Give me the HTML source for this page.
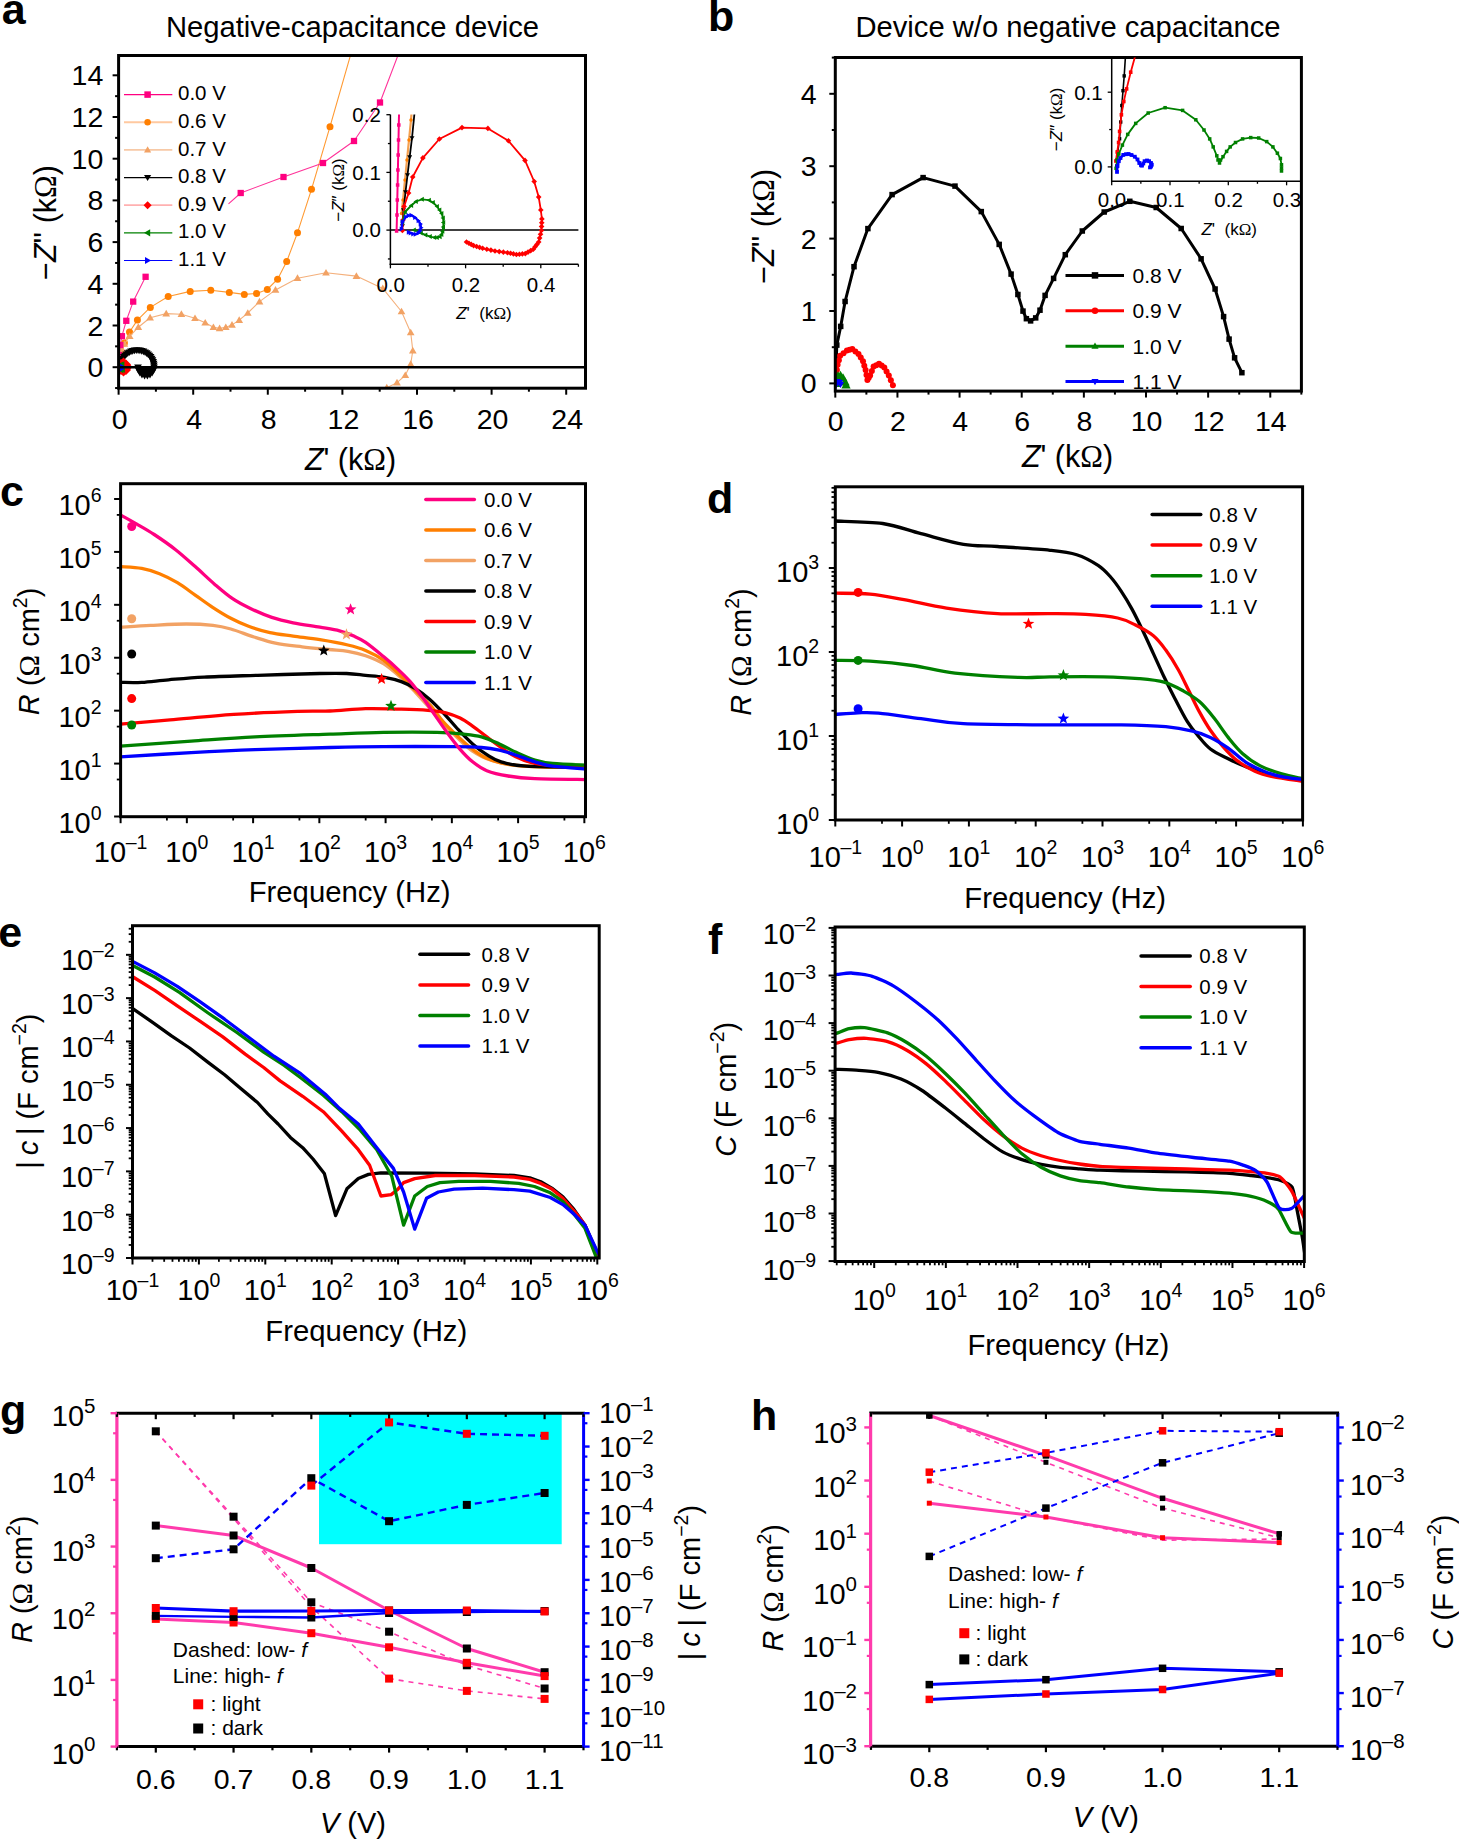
<!DOCTYPE html><html><head><meta charset="utf-8"><style>html,body{margin:0;padding:0;background:#fff;}body{width:1459px;height:1840px;overflow:hidden;font-family:"Liberation Sans",sans-serif;}svg{display:block;}</style></head><body><svg width="1459" height="1840" viewBox="0 0 1459 1840" font-family='"Liberation Sans", sans-serif'>
<rect width="1459" height="1840" fill="#fff"/>
<text x="1.7" y="24.4" font-size="43" font-weight="bold">a</text>
<text x="352.5" y="37.3" font-size="29.2" text-anchor="middle">Negative-capacitance device</text>
<line x1="115.1" y1="388.05" x2="118.6" y2="388.05" stroke="#000" stroke-width="2"/>
<line x1="112.6" y1="367.2" x2="118.6" y2="367.2" stroke="#000" stroke-width="2"/>
<text x="103.3" y="377.2" font-size="28.5" text-anchor="end">0</text>
<line x1="115.1" y1="346.35" x2="118.6" y2="346.35" stroke="#000" stroke-width="2"/>
<line x1="112.6" y1="325.5" x2="118.6" y2="325.5" stroke="#000" stroke-width="2"/>
<text x="103.3" y="335.5" font-size="28.5" text-anchor="end">2</text>
<line x1="115.1" y1="304.65" x2="118.6" y2="304.65" stroke="#000" stroke-width="2"/>
<line x1="112.6" y1="283.8" x2="118.6" y2="283.8" stroke="#000" stroke-width="2"/>
<text x="103.3" y="293.8" font-size="28.5" text-anchor="end">4</text>
<line x1="115.1" y1="262.95" x2="118.6" y2="262.95" stroke="#000" stroke-width="2"/>
<line x1="112.6" y1="242.1" x2="118.6" y2="242.1" stroke="#000" stroke-width="2"/>
<text x="103.3" y="252.1" font-size="28.5" text-anchor="end">6</text>
<line x1="115.1" y1="221.25" x2="118.6" y2="221.25" stroke="#000" stroke-width="2"/>
<line x1="112.6" y1="200.4" x2="118.6" y2="200.4" stroke="#000" stroke-width="2"/>
<text x="103.3" y="210.4" font-size="28.5" text-anchor="end">8</text>
<line x1="115.1" y1="179.55" x2="118.6" y2="179.55" stroke="#000" stroke-width="2"/>
<line x1="112.6" y1="158.7" x2="118.6" y2="158.7" stroke="#000" stroke-width="2"/>
<text x="103.3" y="168.7" font-size="28.5" text-anchor="end">10</text>
<line x1="115.1" y1="137.85" x2="118.6" y2="137.85" stroke="#000" stroke-width="2"/>
<line x1="112.6" y1="117" x2="118.6" y2="117" stroke="#000" stroke-width="2"/>
<text x="103.3" y="127" font-size="28.5" text-anchor="end">12</text>
<line x1="115.1" y1="96.15" x2="118.6" y2="96.15" stroke="#000" stroke-width="2"/>
<line x1="112.6" y1="75.3" x2="118.6" y2="75.3" stroke="#000" stroke-width="2"/>
<text x="103.3" y="85.3" font-size="28.5" text-anchor="end">14</text>
<line x1="118.6" y1="388.2" x2="118.6" y2="394.7" stroke="#000" stroke-width="2"/>
<text x="119.6" y="429.3" font-size="28.5" text-anchor="middle">0</text>
<line x1="155.9" y1="388.2" x2="155.9" y2="391.7" stroke="#000" stroke-width="2"/>
<line x1="193.2" y1="388.2" x2="193.2" y2="394.7" stroke="#000" stroke-width="2"/>
<text x="194.2" y="429.3" font-size="28.5" text-anchor="middle">4</text>
<line x1="230.5" y1="388.2" x2="230.5" y2="391.7" stroke="#000" stroke-width="2"/>
<line x1="267.8" y1="388.2" x2="267.8" y2="394.7" stroke="#000" stroke-width="2"/>
<text x="268.8" y="429.3" font-size="28.5" text-anchor="middle">8</text>
<line x1="305.1" y1="388.2" x2="305.1" y2="391.7" stroke="#000" stroke-width="2"/>
<line x1="342.4" y1="388.2" x2="342.4" y2="394.7" stroke="#000" stroke-width="2"/>
<text x="343.4" y="429.3" font-size="28.5" text-anchor="middle">12</text>
<line x1="379.7" y1="388.2" x2="379.7" y2="391.7" stroke="#000" stroke-width="2"/>
<line x1="417" y1="388.2" x2="417" y2="394.7" stroke="#000" stroke-width="2"/>
<text x="418" y="429.3" font-size="28.5" text-anchor="middle">16</text>
<line x1="454.3" y1="388.2" x2="454.3" y2="391.7" stroke="#000" stroke-width="2"/>
<line x1="491.6" y1="388.2" x2="491.6" y2="394.7" stroke="#000" stroke-width="2"/>
<text x="492.6" y="429.3" font-size="28.5" text-anchor="middle">20</text>
<line x1="528.9" y1="388.2" x2="528.9" y2="391.7" stroke="#000" stroke-width="2"/>
<line x1="566.2" y1="388.2" x2="566.2" y2="394.7" stroke="#000" stroke-width="2"/>
<text x="567.2" y="429.3" font-size="28.5" text-anchor="middle">24</text>
<text x="350.5" y="470" font-size="30.5" text-anchor="middle"><tspan font-style="italic">Z</tspan>' (k<tspan font-family="Liberation Serif">Ω</tspan>)</text>
<text x="55.5" y="222.5" font-size="30.5" text-anchor="middle" transform="rotate(-90 55.5 222.5)">−<tspan font-style="italic">Z</tspan>'' (k<tspan font-family="Liberation Serif">Ω</tspan>)</text>
<clipPath id="ca"><rect x="118.6" y="55.5" width="466.9" height="332.7"/></clipPath>
<g clip-path="url(#ca)">
<polyline points="119.5,357 121.3,351.6 124.4,343 129.5,332 137.4,320.1 150.3,307.4 168.2,296.5 190.2,291.4 210.8,290.3 229.3,292.4 244.3,294.4 256.6,293.4 267.3,289.5 277.6,279.2 286.7,261.5 297.5,232.7 311.5,189.3 330,126.7 352,50" fill="none" stroke="#FF9A33" stroke-width="1.1" stroke-linejoin="round"/>
<circle cx="119.5" cy="357" r="3.5" fill="#FF7F00"/>
<circle cx="121.3" cy="351.6" r="3.5" fill="#FF7F00"/>
<circle cx="124.4" cy="343" r="3.5" fill="#FF7F00"/>
<circle cx="129.5" cy="332" r="3.5" fill="#FF7F00"/>
<circle cx="137.4" cy="320.1" r="3.5" fill="#FF7F00"/>
<circle cx="150.3" cy="307.4" r="3.5" fill="#FF7F00"/>
<circle cx="168.2" cy="296.5" r="3.5" fill="#FF7F00"/>
<circle cx="190.2" cy="291.4" r="3.5" fill="#FF7F00"/>
<circle cx="210.8" cy="290.3" r="3.5" fill="#FF7F00"/>
<circle cx="229.3" cy="292.4" r="3.5" fill="#FF7F00"/>
<circle cx="244.3" cy="294.4" r="3.5" fill="#FF7F00"/>
<circle cx="256.6" cy="293.4" r="3.5" fill="#FF7F00"/>
<circle cx="267.3" cy="289.5" r="3.5" fill="#FF7F00"/>
<circle cx="277.6" cy="279.2" r="3.5" fill="#FF7F00"/>
<circle cx="286.7" cy="261.5" r="3.5" fill="#FF7F00"/>
<circle cx="297.5" cy="232.7" r="3.5" fill="#FF7F00"/>
<circle cx="311.5" cy="189.3" r="3.5" fill="#FF7F00"/>
<circle cx="330" cy="126.7" r="3.5" fill="#FF7F00"/>
<polyline points="119.5,356 120,353.6 122,349.3 124.4,344 129.7,336.3 138.3,327.2 150.1,317.7 166.2,313.6 181.4,314.2 195,318.3 205.2,322.8 213.4,327.3 219.6,328.4 225.8,327.3 232,324.9 239.2,320.1 247.8,313 259.5,301.6 275.5,289.9 297.5,278.2 326,272.8 356.4,276.1 382.8,288.4 401.5,311.5 410.7,332.5 412.8,350.6 410.7,364.2 405.3,375.3 397,382.7 386.8,387.7 380,392" fill="none" stroke="#F4B07C" stroke-width="1.1" stroke-linejoin="round"/>
<path d="M119.5,352.15 L123.35,358.8 L115.65,358.8Z" fill="#F2A264"/>
<path d="M120,349.75 L123.85,356.4 L116.15,356.4Z" fill="#F2A264"/>
<path d="M122,345.45 L125.85,352.1 L118.15,352.1Z" fill="#F2A264"/>
<path d="M124.4,340.15 L128.25,346.8 L120.55,346.8Z" fill="#F2A264"/>
<path d="M129.7,332.45 L133.55,339.1 L125.85,339.1Z" fill="#F2A264"/>
<path d="M138.3,323.35 L142.15,330 L134.45,330Z" fill="#F2A264"/>
<path d="M150.1,313.85 L153.95,320.5 L146.25,320.5Z" fill="#F2A264"/>
<path d="M166.2,309.75 L170.05,316.4 L162.35,316.4Z" fill="#F2A264"/>
<path d="M181.4,310.35 L185.25,317 L177.55,317Z" fill="#F2A264"/>
<path d="M195,314.45 L198.85,321.1 L191.15,321.1Z" fill="#F2A264"/>
<path d="M205.2,318.95 L209.05,325.6 L201.35,325.6Z" fill="#F2A264"/>
<path d="M213.4,323.45 L217.25,330.1 L209.55,330.1Z" fill="#F2A264"/>
<path d="M219.6,324.55 L223.45,331.2 L215.75,331.2Z" fill="#F2A264"/>
<path d="M225.8,323.45 L229.65,330.1 L221.95,330.1Z" fill="#F2A264"/>
<path d="M232,321.05 L235.85,327.7 L228.15,327.7Z" fill="#F2A264"/>
<path d="M239.2,316.25 L243.05,322.9 L235.35,322.9Z" fill="#F2A264"/>
<path d="M247.8,309.15 L251.65,315.8 L243.95,315.8Z" fill="#F2A264"/>
<path d="M259.5,297.75 L263.35,304.4 L255.65,304.4Z" fill="#F2A264"/>
<path d="M275.5,286.05 L279.35,292.7 L271.65,292.7Z" fill="#F2A264"/>
<path d="M297.5,274.35 L301.35,281 L293.65,281Z" fill="#F2A264"/>
<path d="M326,268.95 L329.85,275.6 L322.15,275.6Z" fill="#F2A264"/>
<path d="M356.4,272.25 L360.25,278.9 L352.55,278.9Z" fill="#F2A264"/>
<path d="M382.8,284.55 L386.65,291.2 L378.95,291.2Z" fill="#F2A264"/>
<path d="M401.5,307.65 L405.35,314.3 L397.65,314.3Z" fill="#F2A264"/>
<path d="M410.7,328.65 L414.55,335.3 L406.85,335.3Z" fill="#F2A264"/>
<path d="M412.8,346.75 L416.65,353.4 L408.95,353.4Z" fill="#F2A264"/>
<path d="M410.7,360.35 L414.55,367 L406.85,367Z" fill="#F2A264"/>
<path d="M405.3,371.45 L409.15,378.1 L401.45,378.1Z" fill="#F2A264"/>
<path d="M397,378.85 L400.85,385.5 L393.15,385.5Z" fill="#F2A264"/>
<path d="M386.8,383.85 L390.65,390.5 L382.95,390.5Z" fill="#F2A264"/>
<path d="M380,388.15 L383.85,394.8 L376.15,394.8Z" fill="#F2A264"/>
<polyline points="119.2,355 120.3,345 121.9,336.2 126.3,320.8 133.2,301.6 145.6,276.8" fill="none" stroke="#FF3399" stroke-width="1.1" stroke-linejoin="round"/>
<polyline points="228.5,203.8 240.7,193 283.5,177 323,163 354,141 380,102.5 400,50" fill="none" stroke="#FF3399" stroke-width="1.1" stroke-linejoin="round"/>
<rect x="116.05" y="351.85" width="6.3" height="6.3" fill="#FF0080"/>
<rect x="117.15" y="341.85" width="6.3" height="6.3" fill="#FF0080"/>
<rect x="118.75" y="333.05" width="6.3" height="6.3" fill="#FF0080"/>
<rect x="123.15" y="317.65" width="6.3" height="6.3" fill="#FF0080"/>
<rect x="130.05" y="298.45" width="6.3" height="6.3" fill="#FF0080"/>
<rect x="142.45" y="273.65" width="6.3" height="6.3" fill="#FF0080"/>
<rect x="237.55" y="189.85" width="6.3" height="6.3" fill="#FF0080"/>
<rect x="280.35" y="173.85" width="6.3" height="6.3" fill="#FF0080"/>
<rect x="319.85" y="159.85" width="6.3" height="6.3" fill="#FF0080"/>
<rect x="350.85" y="137.85" width="6.3" height="6.3" fill="#FF0080"/>
<rect x="376.85" y="99.35" width="6.3" height="6.3" fill="#FF0080"/>
<polyline points="120.4,367.2 120.5,365.36 120.79,363.55 121.28,361.77 121.95,360.06 122.8,358.44 123.83,356.91 125,355.51 126.32,354.24 127.77,353.13 129.33,352.18 130.98,351.41 132.71,350.82 134.48,350.42 136.29,350.22 138.11,350.22 139.92,350.42 141.69,350.82 143.42,351.41 145.07,352.18 146.63,353.13 148.08,354.24 149.4,355.51 150.57,356.91 151.6,358.44 152.45,360.06 153.12,361.77 153.61,363.55 153.9,365.36 154,367.2 153.52,370.11 152.13,372.66 150,374.56 147.39,375.57 144.61,375.57 142,374.56 139.87,372.66 138.48,370.11 138,367.2" fill="none" stroke="#000" stroke-width="2" stroke-linejoin="round"/>
<path d="M120.4,371.05 L124.25,364.4 L116.55,364.4Z" fill="#000"/>
<path d="M120.5,369.21 L124.35,362.56 L116.65,362.56Z" fill="#000"/>
<path d="M120.79,367.4 L124.64,360.75 L116.94,360.75Z" fill="#000"/>
<path d="M121.28,365.62 L125.13,358.97 L117.43,358.97Z" fill="#000"/>
<path d="M121.95,363.91 L125.8,357.26 L118.1,357.26Z" fill="#000"/>
<path d="M122.8,362.29 L126.65,355.64 L118.95,355.64Z" fill="#000"/>
<path d="M123.83,360.76 L127.68,354.11 L119.98,354.11Z" fill="#000"/>
<path d="M125,359.36 L128.85,352.71 L121.15,352.71Z" fill="#000"/>
<path d="M126.32,358.09 L130.17,351.44 L122.47,351.44Z" fill="#000"/>
<path d="M127.77,356.98 L131.62,350.33 L123.92,350.33Z" fill="#000"/>
<path d="M129.33,356.03 L133.18,349.38 L125.48,349.38Z" fill="#000"/>
<path d="M130.98,355.26 L134.83,348.61 L127.13,348.61Z" fill="#000"/>
<path d="M132.71,354.67 L136.56,348.02 L128.86,348.02Z" fill="#000"/>
<path d="M134.48,354.27 L138.33,347.62 L130.63,347.62Z" fill="#000"/>
<path d="M136.29,354.07 L140.14,347.42 L132.44,347.42Z" fill="#000"/>
<path d="M138.11,354.07 L141.96,347.42 L134.26,347.42Z" fill="#000"/>
<path d="M139.92,354.27 L143.77,347.62 L136.07,347.62Z" fill="#000"/>
<path d="M141.69,354.67 L145.54,348.02 L137.84,348.02Z" fill="#000"/>
<path d="M143.42,355.26 L147.27,348.61 L139.57,348.61Z" fill="#000"/>
<path d="M145.07,356.03 L148.92,349.38 L141.22,349.38Z" fill="#000"/>
<path d="M146.63,356.98 L150.48,350.33 L142.78,350.33Z" fill="#000"/>
<path d="M148.08,358.09 L151.93,351.44 L144.23,351.44Z" fill="#000"/>
<path d="M149.4,359.36 L153.25,352.71 L145.55,352.71Z" fill="#000"/>
<path d="M150.57,360.76 L154.42,354.11 L146.72,354.11Z" fill="#000"/>
<path d="M151.6,362.29 L155.45,355.64 L147.75,355.64Z" fill="#000"/>
<path d="M152.45,363.91 L156.3,357.26 L148.6,357.26Z" fill="#000"/>
<path d="M153.12,365.62 L156.97,358.97 L149.27,358.97Z" fill="#000"/>
<path d="M153.61,367.4 L157.46,360.75 L149.76,360.75Z" fill="#000"/>
<path d="M153.9,369.21 L157.75,362.56 L150.05,362.56Z" fill="#000"/>
<path d="M154,371.05 L157.85,364.4 L150.15,364.4Z" fill="#000"/>
<path d="M153.52,373.96 L157.37,367.31 L149.67,367.31Z" fill="#000"/>
<path d="M152.13,376.51 L155.98,369.86 L148.28,369.86Z" fill="#000"/>
<path d="M150,378.41 L153.85,371.76 L146.15,371.76Z" fill="#000"/>
<path d="M147.39,379.42 L151.24,372.77 L143.54,372.77Z" fill="#000"/>
<path d="M144.61,379.42 L148.46,372.77 L140.76,372.77Z" fill="#000"/>
<path d="M142,378.41 L145.85,371.76 L138.15,371.76Z" fill="#000"/>
<path d="M139.87,376.51 L143.72,369.86 L136.02,369.86Z" fill="#000"/>
<path d="M138.48,373.96 L142.33,367.31 L134.63,367.31Z" fill="#000"/>
<path d="M138,371.05 L141.85,364.4 L134.15,364.4Z" fill="#000"/>
<path d="M138,367 L154,367 Q154,376 146,376.5 Q138,376.5 138,367Z" fill="#000"/>
<polyline points="121,364 123.5,362.5 126,364.5 127.5,367 126,370 123.5,371.5 121,370" fill="none" stroke="#FF0000" stroke-width="2" stroke-linejoin="round"/>
<path d="M121,359 L126,364 L121,369 L116,364Z" fill="#FF0000"/>
<path d="M123.5,357.5 L128.5,362.5 L123.5,367.5 L118.5,362.5Z" fill="#FF0000"/>
<path d="M126,359.5 L131,364.5 L126,369.5 L121,364.5Z" fill="#FF0000"/>
<path d="M127.5,362 L132.5,367 L127.5,372 L122.5,367Z" fill="#FF0000"/>
<path d="M126,365 L131,370 L126,375 L121,370Z" fill="#FF0000"/>
<path d="M123.5,366.5 L128.5,371.5 L123.5,376.5 L118.5,371.5Z" fill="#FF0000"/>
<path d="M121,365 L126,370 L121,375 L116,370Z" fill="#FF0000"/>
<path d="M117.2,365 L122.9,361.7 L122.9,368.3Z" fill="#008000"/>
<path d="M118.7,364.5 L124.4,361.2 L124.4,367.8Z" fill="#008000"/>
<path d="M119.2,369.5 L124.9,366.2 L124.9,372.8Z" fill="#008000"/>
<path d="M117.7,370 L123.4,366.7 L123.4,373.3Z" fill="#008000"/>
<path d="M123.85,366 L117.2,362.15 L117.2,369.85Z" fill="#0000FF"/>
<path d="M125.35,367 L118.7,363.15 L118.7,370.85Z" fill="#0000FF"/>
<path d="M124.35,369 L117.7,365.15 L117.7,372.85Z" fill="#0000FF"/>
</g>
<line x1="118.6" y1="367.2" x2="585.5" y2="367.2" stroke="#000" stroke-width="2.6"/>
<rect x="121" y="80" width="107" height="190" fill="#fff"/>
<line x1="124" y1="94.6" x2="172.3" y2="94.6" stroke="#FF0080" stroke-width="1.2"/>
<rect x="144.35" y="91.35" width="6.5" height="6.5" fill="#FF0080"/>
<text x="178" y="100.2" font-size="20.5">0.0 V</text>
<line x1="124" y1="122.25" x2="172.3" y2="122.25" stroke="#FFC9A0" stroke-width="1.8"/>
<circle cx="147.6" cy="122.25" r="3.25" fill="#FF7F00"/>
<text x="178" y="127.85" font-size="20.5">0.6 V</text>
<line x1="124" y1="149.9" x2="172.3" y2="149.9" stroke="#F7C9A6" stroke-width="1.8"/>
<path d="M147.6,146.32 L151.17,152.5 L144.03,152.5Z" fill="#F2A264"/>
<text x="178" y="155.5" font-size="20.5">0.7 V</text>
<line x1="124" y1="177.55" x2="172.3" y2="177.55" stroke="#000" stroke-width="1.2"/>
<path d="M147.6,181.12 L151.17,174.95 L144.03,174.95Z" fill="#000"/>
<text x="178" y="183.15" font-size="20.5">0.8 V</text>
<line x1="124" y1="205.2" x2="172.3" y2="205.2" stroke="#FFB0B0" stroke-width="1.8"/>
<path d="M147.6,201.14 L151.66,205.2 L147.6,209.26 L143.54,205.2Z" fill="#FF0000"/>
<text x="178" y="210.8" font-size="20.5">0.9 V</text>
<line x1="124" y1="232.85" x2="172.3" y2="232.85" stroke="#008000" stroke-width="1.2"/>
<path d="M144.03,232.85 L150.2,229.28 L150.2,236.42Z" fill="#008000"/>
<text x="178" y="238.45" font-size="20.5">1.0 V</text>
<line x1="124" y1="260.5" x2="172.3" y2="260.5" stroke="#0000FF" stroke-width="1.2"/>
<path d="M151.17,260.5 L145,256.93 L145,264.07Z" fill="#0000FF"/>
<text x="178" y="266.1" font-size="20.5">1.1 V</text>
<rect x="118.6" y="55.5" width="466.9" height="332.7" fill="none" stroke="#000" stroke-width="3"/>
<line x1="390.4" y1="114.6" x2="390.4" y2="265" stroke="#000" stroke-width="1.5"/>
<line x1="389.7" y1="264.3" x2="578.4" y2="264.3" stroke="#000" stroke-width="1.5"/>
<line x1="390.4" y1="230.1" x2="578.4" y2="230.1" stroke="#000" stroke-width="1.5"/>
<line x1="387.9" y1="258.95" x2="390.4" y2="258.95" stroke="#000" stroke-width="1.3"/>
<line x1="386.4" y1="230.1" x2="390.4" y2="230.1" stroke="#000" stroke-width="1.3"/>
<text x="380.8" y="237.4" font-size="20.5" text-anchor="end">0.0</text>
<line x1="387.9" y1="201.25" x2="390.4" y2="201.25" stroke="#000" stroke-width="1.3"/>
<line x1="386.4" y1="172.4" x2="390.4" y2="172.4" stroke="#000" stroke-width="1.3"/>
<text x="380.8" y="179.7" font-size="20.5" text-anchor="end">0.1</text>
<line x1="387.9" y1="143.55" x2="390.4" y2="143.55" stroke="#000" stroke-width="1.3"/>
<line x1="386.4" y1="114.7" x2="390.4" y2="114.7" stroke="#000" stroke-width="1.3"/>
<text x="380.8" y="122" font-size="20.5" text-anchor="end">0.2</text>
<line x1="390.4" y1="264.3" x2="390.4" y2="268.3" stroke="#000" stroke-width="1.3"/>
<text x="390.7" y="292" font-size="20.5" text-anchor="middle">0.0</text>
<line x1="428" y1="264.3" x2="428" y2="266.8" stroke="#000" stroke-width="1.3"/>
<line x1="465.6" y1="264.3" x2="465.6" y2="268.3" stroke="#000" stroke-width="1.3"/>
<text x="465.9" y="292" font-size="20.5" text-anchor="middle">0.2</text>
<line x1="503.2" y1="264.3" x2="503.2" y2="266.8" stroke="#000" stroke-width="1.3"/>
<line x1="540.8" y1="264.3" x2="540.8" y2="268.3" stroke="#000" stroke-width="1.3"/>
<text x="541.1" y="292" font-size="20.5" text-anchor="middle">0.4</text>
<line x1="578.4" y1="264.3" x2="578.4" y2="266.8" stroke="#000" stroke-width="1.3"/>
<text x="484" y="318.7" font-size="17" text-anchor="middle"><tspan font-style="italic">Z</tspan>'  (k<tspan font-family="Liberation Serif">Ω</tspan>)</text>
<text x="343.5" y="190" font-size="17" text-anchor="middle" transform="rotate(-90 343.5 190)">−<tspan font-style="italic">Z</tspan>″ (k<tspan font-family="Liberation Serif">Ω</tspan>)</text>
<clipPath id="cai"><rect x="390.4" y="114.6" width="188.0" height="149.70000000000002"/></clipPath>
<g clip-path="url(#cai)">
<polyline points="396.6,231 397,215 397.3,200 397.6,185 397.9,170 398.2,155 398.5,140 398.8,125 399.1,110" fill="none" stroke="#FF0080" stroke-width="2" stroke-linejoin="round"/>
<rect x="394.85" y="229.25" width="3.5" height="3.5" fill="#FF0080"/>
<rect x="395.25" y="213.25" width="3.5" height="3.5" fill="#FF0080"/>
<rect x="395.55" y="198.25" width="3.5" height="3.5" fill="#FF0080"/>
<rect x="395.85" y="183.25" width="3.5" height="3.5" fill="#FF0080"/>
<rect x="396.15" y="168.25" width="3.5" height="3.5" fill="#FF0080"/>
<rect x="396.45" y="153.25" width="3.5" height="3.5" fill="#FF0080"/>
<rect x="396.75" y="138.25" width="3.5" height="3.5" fill="#FF0080"/>
<rect x="397.05" y="123.25" width="3.5" height="3.5" fill="#FF0080"/>
<polyline points="401.5,213.5 403,200 405,180 407,160 409,140 411,120 412,108" fill="none" stroke="#F5A050" stroke-width="2.2" stroke-linejoin="round"/>
<circle cx="401.5" cy="213.5" r="1.75" fill="#FF7F00"/>
<circle cx="403" cy="200" r="1.75" fill="#FF7F00"/>
<circle cx="405" cy="180" r="1.75" fill="#FF7F00"/>
<circle cx="407" cy="160" r="1.75" fill="#FF7F00"/>
<circle cx="409" cy="140" r="1.75" fill="#FF7F00"/>
<circle cx="411" cy="120" r="1.75" fill="#FF7F00"/>
<polyline points="402.4,226 403.5,210 405.5,192 407.5,175 409.7,157 412,138 415,108" fill="none" stroke="#000" stroke-width="1.8" stroke-linejoin="round"/>
<path d="M402.4,228.47 L404.88,224.2 L399.92,224.2Z" fill="#000"/>
<path d="M403.5,212.47 L405.98,208.2 L401.02,208.2Z" fill="#000"/>
<path d="M405.5,194.47 L407.98,190.2 L403.02,190.2Z" fill="#000"/>
<path d="M407.5,177.47 L409.98,173.2 L405.02,173.2Z" fill="#000"/>
<path d="M409.7,159.47 L412.18,155.2 L407.22,155.2Z" fill="#000"/>
<path d="M412,140.47 L414.48,136.2 L409.52,136.2Z" fill="#000"/>
<polyline points="402.4,230.5 403,220 404.1,206.4 408.6,193 412.7,177 422.9,157.9 439.4,139 462,127.6 487.9,128.4 508.4,140.8 525,160.4 534.2,181.5 538.7,197.1 540.8,210 541.9,218.9 541.4,230.5 538.7,242 533.3,249.2 525.3,253.6 516.4,254.5 507.5,252.7 495,251 482.6,248.3 473.6,245.6 466.5,242" fill="none" stroke="#FF0000" stroke-width="1.8" stroke-linejoin="round"/>
<path d="M402.4,227.69 L405.21,230.5 L402.4,233.31 L399.59,230.5Z" fill="#FF0000"/>
<path d="M403,217.19 L405.81,220 L403,222.81 L400.19,220Z" fill="#FF0000"/>
<path d="M404.1,203.59 L406.91,206.4 L404.1,209.21 L401.29,206.4Z" fill="#FF0000"/>
<path d="M408.6,190.19 L411.41,193 L408.6,195.81 L405.79,193Z" fill="#FF0000"/>
<path d="M412.7,174.19 L415.51,177 L412.7,179.81 L409.89,177Z" fill="#FF0000"/>
<path d="M422.9,155.09 L425.71,157.9 L422.9,160.71 L420.09,157.9Z" fill="#FF0000"/>
<path d="M439.4,136.19 L442.21,139 L439.4,141.81 L436.59,139Z" fill="#FF0000"/>
<path d="M462,124.79 L464.81,127.6 L462,130.41 L459.19,127.6Z" fill="#FF0000"/>
<path d="M487.9,125.59 L490.71,128.4 L487.9,131.21 L485.09,128.4Z" fill="#FF0000"/>
<path d="M508.4,137.99 L511.21,140.8 L508.4,143.61 L505.59,140.8Z" fill="#FF0000"/>
<path d="M525,157.59 L527.81,160.4 L525,163.21 L522.19,160.4Z" fill="#FF0000"/>
<path d="M534.2,178.69 L537.01,181.5 L534.2,184.31 L531.39,181.5Z" fill="#FF0000"/>
<path d="M538.7,194.29 L541.51,197.1 L538.7,199.91 L535.89,197.1Z" fill="#FF0000"/>
<path d="M540.8,207.19 L543.61,210 L540.8,212.81 L537.99,210Z" fill="#FF0000"/>
<path d="M541.9,216.09 L544.71,218.9 L541.9,221.71 L539.09,218.9Z" fill="#FF0000"/>
<path d="M541.4,227.69 L544.21,230.5 L541.4,233.31 L538.59,230.5Z" fill="#FF0000"/>
<path d="M538.7,239.19 L541.51,242 L538.7,244.81 L535.89,242Z" fill="#FF0000"/>
<path d="M533.3,246.39 L536.11,249.2 L533.3,252.01 L530.49,249.2Z" fill="#FF0000"/>
<path d="M525.3,250.79 L528.11,253.6 L525.3,256.41 L522.49,253.6Z" fill="#FF0000"/>
<path d="M516.4,251.69 L519.21,254.5 L516.4,257.31 L513.59,254.5Z" fill="#FF0000"/>
<path d="M507.5,249.89 L510.31,252.7 L507.5,255.51 L504.69,252.7Z" fill="#FF0000"/>
<path d="M495,248.19 L497.81,251 L495,253.81 L492.19,251Z" fill="#FF0000"/>
<path d="M482.6,245.49 L485.41,248.3 L482.6,251.11 L479.79,248.3Z" fill="#FF0000"/>
<path d="M473.6,242.79 L476.41,245.6 L473.6,248.41 L470.79,245.6Z" fill="#FF0000"/>
<path d="M466.5,239.19 L469.31,242 L466.5,244.81 L463.69,242Z" fill="#FF0000"/>
<path d="M541.74,219.92 L544.55,222.73 L541.74,225.54 L538.92,222.73Z" fill="#FF0000"/>
<path d="M541.57,223.74 L544.38,226.56 L541.57,229.37 L538.76,226.56Z" fill="#FF0000"/>
<path d="M540.51,231.48 L543.32,234.29 L540.51,237.11 L537.7,234.29Z" fill="#FF0000"/>
<path d="M539.62,235.28 L542.43,238.09 L539.62,240.9 L536.81,238.09Z" fill="#FF0000"/>
<path d="M536.92,241.56 L539.73,244.38 L536.92,247.19 L534.11,244.38Z" fill="#FF0000"/>
<path d="M535.14,243.94 L537.95,246.75 L535.14,249.56 L532.32,246.75Z" fill="#FF0000"/>
<path d="M530.66,247.84 L533.47,250.65 L530.66,253.46 L527.85,250.65Z" fill="#FF0000"/>
<path d="M528.02,249.29 L530.83,252.1 L528.02,254.92 L525.21,252.1Z" fill="#FF0000"/>
<path d="M522.36,251.08 L525.18,253.9 L522.36,256.71 L519.55,253.9Z" fill="#FF0000"/>
<path d="M519.43,251.38 L522.24,254.19 L519.43,257.01 L516.61,254.19Z" fill="#FF0000"/>
<path d="M513.46,251.09 L516.28,253.91 L513.46,256.72 L510.65,253.91Z" fill="#FF0000"/>
<path d="M510.53,250.5 L513.34,253.31 L510.53,256.12 L507.71,253.31Z" fill="#FF0000"/>
<path d="M503.38,249.33 L506.19,252.14 L503.38,254.95 L500.56,252.14Z" fill="#FF0000"/>
<path d="M499.25,248.77 L502.06,251.58 L499.25,254.39 L496.44,251.58Z" fill="#FF0000"/>
<path d="M490.91,247.3 L493.72,250.11 L490.91,252.92 L488.1,250.11Z" fill="#FF0000"/>
<path d="M486.82,246.41 L489.63,249.22 L486.82,252.03 L484,249.22Z" fill="#FF0000"/>
<path d="M479.63,244.6 L482.44,247.41 L479.63,250.22 L476.82,247.41Z" fill="#FF0000"/>
<path d="M476.66,243.71 L479.47,246.52 L476.66,249.33 L473.85,246.52Z" fill="#FF0000"/>
<path d="M471.26,241.6 L474.07,244.41 L471.26,247.22 L468.44,244.41Z" fill="#FF0000"/>
<path d="M468.91,240.41 L471.73,243.22 L468.91,246.04 L466.1,243.22Z" fill="#FF0000"/>
<polyline points="402.4,222 405,212 411.3,205.5 416,201.5 422,199.3 429.1,200.2 433,202.5 437.1,206.4 439.5,210 441.6,213.5 443,218 443.4,222.4 443.2,227 442.5,231.3 441.5,234.5 439.8,236.7 437,237.5 434.4,237.6 430,236.5 425.5,234.9 421,233 418.4,231.3 414,230" fill="none" stroke="#008000" stroke-width="1.8" stroke-linejoin="round"/>
<path d="M399.92,222 L404.2,219.53 L404.2,224.47Z" fill="#008000"/>
<path d="M402.52,212 L406.8,209.53 L406.8,214.47Z" fill="#008000"/>
<path d="M408.82,205.5 L413.1,203.03 L413.1,207.97Z" fill="#008000"/>
<path d="M413.52,201.5 L417.8,199.03 L417.8,203.97Z" fill="#008000"/>
<path d="M419.52,199.3 L423.8,196.83 L423.8,201.78Z" fill="#008000"/>
<path d="M426.62,200.2 L430.9,197.72 L430.9,202.67Z" fill="#008000"/>
<path d="M430.52,202.5 L434.8,200.03 L434.8,204.97Z" fill="#008000"/>
<path d="M434.62,206.4 L438.9,203.93 L438.9,208.88Z" fill="#008000"/>
<path d="M437.02,210 L441.3,207.53 L441.3,212.47Z" fill="#008000"/>
<path d="M439.12,213.5 L443.4,211.03 L443.4,215.97Z" fill="#008000"/>
<path d="M440.52,218 L444.8,215.53 L444.8,220.47Z" fill="#008000"/>
<path d="M440.92,222.4 L445.2,219.93 L445.2,224.88Z" fill="#008000"/>
<path d="M440.72,227 L445,224.53 L445,229.47Z" fill="#008000"/>
<path d="M440.02,231.3 L444.3,228.83 L444.3,233.78Z" fill="#008000"/>
<path d="M439.02,234.5 L443.3,232.03 L443.3,236.97Z" fill="#008000"/>
<path d="M437.32,236.7 L441.6,234.22 L441.6,239.17Z" fill="#008000"/>
<path d="M434.52,237.5 L438.8,235.03 L438.8,239.97Z" fill="#008000"/>
<path d="M431.92,237.6 L436.2,235.12 L436.2,240.07Z" fill="#008000"/>
<path d="M427.52,236.5 L431.8,234.03 L431.8,238.97Z" fill="#008000"/>
<path d="M423.02,234.9 L427.3,232.43 L427.3,237.38Z" fill="#008000"/>
<path d="M418.52,233 L422.8,230.53 L422.8,235.47Z" fill="#008000"/>
<path d="M415.92,231.3 L420.2,228.83 L420.2,233.78Z" fill="#008000"/>
<path d="M411.52,230 L415.8,227.53 L415.8,232.47Z" fill="#008000"/>
<polyline points="401.5,229 402.5,222 405.9,217 408.5,215.5 411.3,215.3 415,217.5 418.4,220.7 420.5,224 421.1,227.8 420,231 418.4,233.1 415.5,234.2 413.1,234 410.5,233 408.6,232.2" fill="none" stroke="#0000FF" stroke-width="2.2" stroke-linejoin="round"/>
<path d="M403.98,229 L399.7,226.53 L399.7,231.47Z" fill="#0000FF"/>
<path d="M404.98,222 L400.7,219.53 L400.7,224.47Z" fill="#0000FF"/>
<path d="M408.38,217 L404.1,214.53 L404.1,219.47Z" fill="#0000FF"/>
<path d="M410.98,215.5 L406.7,213.03 L406.7,217.97Z" fill="#0000FF"/>
<path d="M413.78,215.3 L409.5,212.83 L409.5,217.78Z" fill="#0000FF"/>
<path d="M417.48,217.5 L413.2,215.03 L413.2,219.97Z" fill="#0000FF"/>
<path d="M420.88,220.7 L416.6,218.22 L416.6,223.17Z" fill="#0000FF"/>
<path d="M422.98,224 L418.7,221.53 L418.7,226.47Z" fill="#0000FF"/>
<path d="M423.58,227.8 L419.3,225.33 L419.3,230.28Z" fill="#0000FF"/>
<path d="M422.48,231 L418.2,228.53 L418.2,233.47Z" fill="#0000FF"/>
<path d="M420.88,233.1 L416.6,230.62 L416.6,235.57Z" fill="#0000FF"/>
<path d="M417.98,234.2 L413.7,231.72 L413.7,236.67Z" fill="#0000FF"/>
<path d="M415.58,234 L411.3,231.53 L411.3,236.47Z" fill="#0000FF"/>
<path d="M412.98,233 L408.7,230.53 L408.7,235.47Z" fill="#0000FF"/>
<path d="M411.08,232.2 L406.8,229.72 L406.8,234.67Z" fill="#0000FF"/>
</g>
<text x="708.1" y="30.6" font-size="43" font-weight="bold">b</text>
<text x="1068" y="37.4" font-size="29.2" text-anchor="middle">Device w/o negative capacitance</text>
<line x1="829.3" y1="383.4" x2="835.3" y2="383.4" stroke="#000" stroke-width="2"/>
<text x="816.5" y="393.4" font-size="28.5" text-anchor="end">0</text>
<line x1="831.8" y1="347.2" x2="835.3" y2="347.2" stroke="#000" stroke-width="2"/>
<line x1="829.3" y1="311" x2="835.3" y2="311" stroke="#000" stroke-width="2"/>
<text x="816.5" y="321" font-size="28.5" text-anchor="end">1</text>
<line x1="831.8" y1="274.8" x2="835.3" y2="274.8" stroke="#000" stroke-width="2"/>
<line x1="829.3" y1="238.6" x2="835.3" y2="238.6" stroke="#000" stroke-width="2"/>
<text x="816.5" y="248.6" font-size="28.5" text-anchor="end">2</text>
<line x1="831.8" y1="202.4" x2="835.3" y2="202.4" stroke="#000" stroke-width="2"/>
<line x1="829.3" y1="166.2" x2="835.3" y2="166.2" stroke="#000" stroke-width="2"/>
<text x="816.5" y="176.2" font-size="28.5" text-anchor="end">3</text>
<line x1="831.8" y1="130" x2="835.3" y2="130" stroke="#000" stroke-width="2"/>
<line x1="829.3" y1="93.8" x2="835.3" y2="93.8" stroke="#000" stroke-width="2"/>
<text x="816.5" y="103.8" font-size="28.5" text-anchor="end">4</text>
<line x1="831.8" y1="57.6" x2="835.3" y2="57.6" stroke="#000" stroke-width="2"/>
<line x1="835.3" y1="391.1" x2="835.3" y2="397.6" stroke="#000" stroke-width="2"/>
<text x="835.8" y="430.5" font-size="28.5" text-anchor="middle">0</text>
<line x1="866.37" y1="391.1" x2="866.37" y2="394.6" stroke="#000" stroke-width="2"/>
<line x1="897.44" y1="391.1" x2="897.44" y2="397.6" stroke="#000" stroke-width="2"/>
<text x="897.94" y="430.5" font-size="28.5" text-anchor="middle">2</text>
<line x1="928.51" y1="391.1" x2="928.51" y2="394.6" stroke="#000" stroke-width="2"/>
<line x1="959.58" y1="391.1" x2="959.58" y2="397.6" stroke="#000" stroke-width="2"/>
<text x="960.08" y="430.5" font-size="28.5" text-anchor="middle">4</text>
<line x1="990.65" y1="391.1" x2="990.65" y2="394.6" stroke="#000" stroke-width="2"/>
<line x1="1021.72" y1="391.1" x2="1021.72" y2="397.6" stroke="#000" stroke-width="2"/>
<text x="1022.22" y="430.5" font-size="28.5" text-anchor="middle">6</text>
<line x1="1052.79" y1="391.1" x2="1052.79" y2="394.6" stroke="#000" stroke-width="2"/>
<line x1="1083.86" y1="391.1" x2="1083.86" y2="397.6" stroke="#000" stroke-width="2"/>
<text x="1084.36" y="430.5" font-size="28.5" text-anchor="middle">8</text>
<line x1="1114.93" y1="391.1" x2="1114.93" y2="394.6" stroke="#000" stroke-width="2"/>
<line x1="1146" y1="391.1" x2="1146" y2="397.6" stroke="#000" stroke-width="2"/>
<text x="1146.5" y="430.5" font-size="28.5" text-anchor="middle">10</text>
<line x1="1177.07" y1="391.1" x2="1177.07" y2="394.6" stroke="#000" stroke-width="2"/>
<line x1="1208.14" y1="391.1" x2="1208.14" y2="397.6" stroke="#000" stroke-width="2"/>
<text x="1208.64" y="430.5" font-size="28.5" text-anchor="middle">12</text>
<line x1="1239.21" y1="391.1" x2="1239.21" y2="394.6" stroke="#000" stroke-width="2"/>
<line x1="1270.28" y1="391.1" x2="1270.28" y2="397.6" stroke="#000" stroke-width="2"/>
<text x="1270.78" y="430.5" font-size="28.5" text-anchor="middle">14</text>
<line x1="1301.35" y1="391.1" x2="1301.35" y2="394.6" stroke="#000" stroke-width="2"/>
<text x="1067.5" y="467.2" font-size="30.5" text-anchor="middle"><tspan font-style="italic">Z</tspan>' (k<tspan font-family="Liberation Serif">Ω</tspan>)</text>
<text x="774" y="226.3" font-size="30.5" text-anchor="middle" transform="rotate(-90 774 226.3)">−<tspan font-style="italic">Z</tspan>'' (k<tspan font-family="Liberation Serif">Ω</tspan>)</text>
<clipPath id="cb"><rect x="835.3" y="57.5" width="466.10000000000014" height="333.6"/></clipPath>
<g clip-path="url(#cb)">
<polyline points="835.3,383.8 836.2,362 836.8,345.1 840.7,326.4 845.1,301.5 854,266.7 867.9,228.6 892.1,194.6 923.1,177.6 955,186.1 981.3,211.6 999.2,244.4 1011.1,274.1 1017.9,294.5 1023,311.1 1026.4,318.7 1030.6,320.9 1035.7,317.9 1040,310.2 1045.1,295.4 1053.6,278.4 1065.3,254.7 1082.3,231 1104.2,212 1129.8,201.3 1156.2,207.5 1181.2,228.5 1201.1,258.8 1215.1,289 1223.6,316.6 1229.1,339.1 1234.6,357.8 1241.9,372.7" fill="none" stroke="#000" stroke-width="3" stroke-linejoin="round"/>
<rect x="832.55" y="381.05" width="5.5" height="5.5" fill="#000"/>
<rect x="833.45" y="359.25" width="5.5" height="5.5" fill="#000"/>
<rect x="834.05" y="342.35" width="5.5" height="5.5" fill="#000"/>
<rect x="837.95" y="323.65" width="5.5" height="5.5" fill="#000"/>
<rect x="842.35" y="298.75" width="5.5" height="5.5" fill="#000"/>
<rect x="851.25" y="263.95" width="5.5" height="5.5" fill="#000"/>
<rect x="865.15" y="225.85" width="5.5" height="5.5" fill="#000"/>
<rect x="889.35" y="191.85" width="5.5" height="5.5" fill="#000"/>
<rect x="920.35" y="174.85" width="5.5" height="5.5" fill="#000"/>
<rect x="952.25" y="183.35" width="5.5" height="5.5" fill="#000"/>
<rect x="978.55" y="208.85" width="5.5" height="5.5" fill="#000"/>
<rect x="996.45" y="241.65" width="5.5" height="5.5" fill="#000"/>
<rect x="1008.35" y="271.35" width="5.5" height="5.5" fill="#000"/>
<rect x="1015.15" y="291.75" width="5.5" height="5.5" fill="#000"/>
<rect x="1020.25" y="308.35" width="5.5" height="5.5" fill="#000"/>
<rect x="1023.65" y="315.95" width="5.5" height="5.5" fill="#000"/>
<rect x="1027.85" y="318.15" width="5.5" height="5.5" fill="#000"/>
<rect x="1032.95" y="315.15" width="5.5" height="5.5" fill="#000"/>
<rect x="1037.25" y="307.45" width="5.5" height="5.5" fill="#000"/>
<rect x="1042.35" y="292.65" width="5.5" height="5.5" fill="#000"/>
<rect x="1050.85" y="275.65" width="5.5" height="5.5" fill="#000"/>
<rect x="1062.55" y="251.95" width="5.5" height="5.5" fill="#000"/>
<rect x="1079.55" y="228.25" width="5.5" height="5.5" fill="#000"/>
<rect x="1101.45" y="209.25" width="5.5" height="5.5" fill="#000"/>
<rect x="1127.05" y="198.55" width="5.5" height="5.5" fill="#000"/>
<rect x="1153.45" y="204.75" width="5.5" height="5.5" fill="#000"/>
<rect x="1178.45" y="225.75" width="5.5" height="5.5" fill="#000"/>
<rect x="1198.35" y="256.05" width="5.5" height="5.5" fill="#000"/>
<rect x="1212.35" y="286.25" width="5.5" height="5.5" fill="#000"/>
<rect x="1220.85" y="313.85" width="5.5" height="5.5" fill="#000"/>
<rect x="1226.35" y="336.35" width="5.5" height="5.5" fill="#000"/>
<rect x="1231.85" y="355.05" width="5.5" height="5.5" fill="#000"/>
<rect x="1239.15" y="369.95" width="5.5" height="5.5" fill="#000"/>
<polyline points="835.8,383 836.2,375.4 837.6,364.7 840.1,355.8 846.9,350.5 852.3,349.1 858.5,354 863,361.2 865.6,370.1 867.4,379.9 870.1,375.4 873.6,366.5 879,363.8 884.3,367.4 888.8,375.4 892.9,385.2" fill="none" stroke="#FF0000" stroke-width="3" stroke-linejoin="round"/>
<circle cx="835.8" cy="383" r="3" fill="#FF0000"/>
<circle cx="836" cy="379.2" r="3" fill="#FF0000"/>
<circle cx="836.2" cy="375.4" r="3" fill="#FF0000"/>
<circle cx="836.9" cy="370.05" r="3" fill="#FF0000"/>
<circle cx="837.6" cy="364.7" r="3" fill="#FF0000"/>
<circle cx="838.85" cy="360.25" r="3" fill="#FF0000"/>
<circle cx="840.1" cy="355.8" r="3" fill="#FF0000"/>
<circle cx="843.5" cy="353.15" r="3" fill="#FF0000"/>
<circle cx="846.9" cy="350.5" r="3" fill="#FF0000"/>
<circle cx="849.6" cy="349.8" r="3" fill="#FF0000"/>
<circle cx="852.3" cy="349.1" r="3" fill="#FF0000"/>
<circle cx="855.4" cy="351.55" r="3" fill="#FF0000"/>
<circle cx="858.5" cy="354" r="3" fill="#FF0000"/>
<circle cx="860.75" cy="357.6" r="3" fill="#FF0000"/>
<circle cx="863" cy="361.2" r="3" fill="#FF0000"/>
<circle cx="864.3" cy="365.65" r="3" fill="#FF0000"/>
<circle cx="865.6" cy="370.1" r="3" fill="#FF0000"/>
<circle cx="866.5" cy="375" r="3" fill="#FF0000"/>
<circle cx="867.4" cy="379.9" r="3" fill="#FF0000"/>
<circle cx="868.75" cy="377.65" r="3" fill="#FF0000"/>
<circle cx="870.1" cy="375.4" r="3" fill="#FF0000"/>
<circle cx="871.85" cy="370.95" r="3" fill="#FF0000"/>
<circle cx="873.6" cy="366.5" r="3" fill="#FF0000"/>
<circle cx="876.3" cy="365.15" r="3" fill="#FF0000"/>
<circle cx="879" cy="363.8" r="3" fill="#FF0000"/>
<circle cx="881.65" cy="365.6" r="3" fill="#FF0000"/>
<circle cx="884.3" cy="367.4" r="3" fill="#FF0000"/>
<circle cx="886.55" cy="371.4" r="3" fill="#FF0000"/>
<circle cx="888.8" cy="375.4" r="3" fill="#FF0000"/>
<circle cx="890.85" cy="380.3" r="3" fill="#FF0000"/>
<circle cx="892.9" cy="385.2" r="3" fill="#FF0000"/>
<polyline points="835.8,383.5 836.5,379 838,376 840.5,375.5 843,378 845,382 846,385" fill="none" stroke="#008000" stroke-width="3" stroke-linejoin="round"/>
<path d="M835.8,378.82 L840.47,386.9 L831.12,386.9Z" fill="#008000"/>
<path d="M836.5,374.32 L841.17,382.4 L831.83,382.4Z" fill="#008000"/>
<path d="M838,371.32 L842.67,379.4 L833.33,379.4Z" fill="#008000"/>
<path d="M840.5,370.82 L845.17,378.9 L835.83,378.9Z" fill="#008000"/>
<path d="M843,373.32 L847.67,381.4 L838.33,381.4Z" fill="#008000"/>
<path d="M845,377.32 L849.67,385.4 L840.33,385.4Z" fill="#008000"/>
<path d="M846,380.32 L850.67,388.4 L841.33,388.4Z" fill="#008000"/>
<polyline points="835.5,386 836,383 837.5,381.5 839.5,382.5 840.5,384.5" fill="none" stroke="#0000FF" stroke-width="3" stroke-linejoin="round"/>
<path d="M835.5,389.57 L839.08,383.4 L831.92,383.4Z" fill="#0000FF"/>
<path d="M836,386.57 L839.58,380.4 L832.42,380.4Z" fill="#0000FF"/>
<path d="M837.5,385.07 L841.08,378.9 L833.92,378.9Z" fill="#0000FF"/>
<path d="M839.5,386.07 L843.08,379.9 L835.92,379.9Z" fill="#0000FF"/>
<path d="M840.5,388.07 L844.08,381.9 L836.92,381.9Z" fill="#0000FF"/>
</g>
<line x1="1065.5" y1="275.4" x2="1124" y2="275.4" stroke="#000" stroke-width="3"/>
<rect x="1091.75" y="272.15" width="6.5" height="6.5" fill="#000"/>
<text x="1132.6" y="282.9" font-size="21">0.8 V</text>
<line x1="1065.5" y1="310.8" x2="1124" y2="310.8" stroke="#FF0000" stroke-width="3"/>
<circle cx="1095" cy="310.8" r="3.25" fill="#FF0000"/>
<text x="1132.6" y="318.3" font-size="21">0.9 V</text>
<line x1="1065.5" y1="346.2" x2="1124" y2="346.2" stroke="#008000" stroke-width="3"/>
<path d="M1095,342.62 L1098.58,348.8 L1091.42,348.8Z" fill="#008000"/>
<text x="1132.6" y="353.7" font-size="21">1.0 V</text>
<line x1="1065.5" y1="381.6" x2="1124" y2="381.6" stroke="#0000FF" stroke-width="3"/>
<path d="M1095,385.17 L1098.58,379 L1091.42,379Z" fill="#0000FF"/>
<text x="1132.6" y="389.1" font-size="21">1.1 V</text>
<rect x="835.3" y="57.5" width="466.1" height="333.6" fill="none" stroke="#000" stroke-width="3"/>
<line x1="1111.7" y1="57.5" x2="1111.7" y2="182" stroke="#000" stroke-width="1.5"/>
<line x1="1111" y1="181.3" x2="1300" y2="181.3" stroke="#000" stroke-width="1.5"/>
<line x1="1107.7" y1="166.9" x2="1111.7" y2="166.9" stroke="#000" stroke-width="1.3"/>
<text x="1102.7" y="174.2" font-size="20.5" text-anchor="end">0.0</text>
<line x1="1109.2" y1="129.55" x2="1111.7" y2="129.55" stroke="#000" stroke-width="1.3"/>
<line x1="1107.7" y1="92.2" x2="1111.7" y2="92.2" stroke="#000" stroke-width="1.3"/>
<text x="1102.7" y="99.5" font-size="20.5" text-anchor="end">0.1</text>
<line x1="1111.7" y1="181.3" x2="1111.7" y2="185.3" stroke="#000" stroke-width="1.3"/>
<text x="1112" y="206.5" font-size="20.5" text-anchor="middle">0.0</text>
<line x1="1140.85" y1="181.3" x2="1140.85" y2="183.8" stroke="#000" stroke-width="1.3"/>
<line x1="1170" y1="181.3" x2="1170" y2="185.3" stroke="#000" stroke-width="1.3"/>
<text x="1170.3" y="206.5" font-size="20.5" text-anchor="middle">0.1</text>
<line x1="1199.15" y1="181.3" x2="1199.15" y2="183.8" stroke="#000" stroke-width="1.3"/>
<line x1="1228.3" y1="181.3" x2="1228.3" y2="185.3" stroke="#000" stroke-width="1.3"/>
<text x="1228.6" y="206.5" font-size="20.5" text-anchor="middle">0.2</text>
<line x1="1257.45" y1="181.3" x2="1257.45" y2="183.8" stroke="#000" stroke-width="1.3"/>
<line x1="1286.6" y1="181.3" x2="1286.6" y2="185.3" stroke="#000" stroke-width="1.3"/>
<text x="1286.9" y="206.5" font-size="20.5" text-anchor="middle">0.3</text>
<text x="1229.2" y="235.3" font-size="17" text-anchor="middle"><tspan font-style="italic">Z</tspan>'  (k<tspan font-family="Liberation Serif">Ω</tspan>)</text>
<text x="1062.5" y="119.4" font-size="17" text-anchor="middle" transform="rotate(-90 1062.5 119.4)">−<tspan font-style="italic">Z</tspan>″ (k<tspan font-family="Liberation Serif">Ω</tspan>)</text>
<clipPath id="cbi"><rect x="1111.7" y="57.5" width="188.29999999999995" height="123.80000000000001"/></clipPath>
<g clip-path="url(#cbi)">
<polyline points="1116.8,166 1117.8,152 1119.6,138.8 1120.7,122 1121.8,105.5 1123,90.7 1124.2,75.9 1125.5,55.6 1126,50" fill="none" stroke="#000" stroke-width="1.6" stroke-linejoin="round"/>
<rect x="1115.1" y="164.3" width="3.4" height="3.4" fill="#000"/>
<rect x="1116.1" y="150.3" width="3.4" height="3.4" fill="#000"/>
<rect x="1117.9" y="137.1" width="3.4" height="3.4" fill="#000"/>
<rect x="1119" y="120.3" width="3.4" height="3.4" fill="#000"/>
<rect x="1120.1" y="103.8" width="3.4" height="3.4" fill="#000"/>
<rect x="1121.3" y="89" width="3.4" height="3.4" fill="#000"/>
<rect x="1122.5" y="74.2" width="3.4" height="3.4" fill="#000"/>
<polyline points="1115.9,161 1117.2,152 1118.6,142.5 1119.6,131.4 1121.4,114.8 1123.8,101.5 1126.6,88.9 1130.7,72.2 1135.3,55.6 1136.7,50" fill="none" stroke="#FF0000" stroke-width="1.8" stroke-linejoin="round"/>
<rect x="1114.1" y="159.2" width="3.6" height="3.6" fill="#FF0000"/>
<rect x="1115.4" y="150.2" width="3.6" height="3.6" fill="#FF0000"/>
<rect x="1116.8" y="140.7" width="3.6" height="3.6" fill="#FF0000"/>
<rect x="1117.8" y="129.6" width="3.6" height="3.6" fill="#FF0000"/>
<rect x="1119.6" y="113" width="3.6" height="3.6" fill="#FF0000"/>
<rect x="1122" y="99.7" width="3.6" height="3.6" fill="#FF0000"/>
<rect x="1124.8" y="87.1" width="3.6" height="3.6" fill="#FF0000"/>
<rect x="1128.9" y="70.4" width="3.6" height="3.6" fill="#FF0000"/>
<polyline points="1116.1,168.3 1117,160 1118.8,154 1122.4,145.1 1127.7,134.4 1135.7,123.4 1148.2,113 1165.1,107.7 1182.6,110.4 1195.8,119.8 1204,130 1209.7,138.9 1213.2,146.9 1216.8,155.8 1219.5,163 1223,156.7 1226.6,151.4 1230.2,146.9 1235.5,142.5 1242.6,138.9 1250.7,137.6 1258.7,138 1266.7,141.6 1272.9,146.9 1277.4,153.2 1280.4,158.5 1281.5,164.7 1281.5,171" fill="none" stroke="#008000" stroke-width="1.8" stroke-linejoin="round"/>
<rect x="1114.35" y="166.55" width="3.5" height="3.5" fill="#008000"/>
<rect x="1115.25" y="158.25" width="3.5" height="3.5" fill="#008000"/>
<rect x="1117.05" y="152.25" width="3.5" height="3.5" fill="#008000"/>
<rect x="1120.65" y="143.35" width="3.5" height="3.5" fill="#008000"/>
<rect x="1125.95" y="132.65" width="3.5" height="3.5" fill="#008000"/>
<rect x="1133.95" y="121.65" width="3.5" height="3.5" fill="#008000"/>
<rect x="1146.45" y="111.25" width="3.5" height="3.5" fill="#008000"/>
<rect x="1163.35" y="105.95" width="3.5" height="3.5" fill="#008000"/>
<rect x="1180.85" y="108.65" width="3.5" height="3.5" fill="#008000"/>
<rect x="1194.05" y="118.05" width="3.5" height="3.5" fill="#008000"/>
<rect x="1202.25" y="128.25" width="3.5" height="3.5" fill="#008000"/>
<rect x="1207.95" y="137.15" width="3.5" height="3.5" fill="#008000"/>
<rect x="1211.45" y="145.15" width="3.5" height="3.5" fill="#008000"/>
<rect x="1215.05" y="154.05" width="3.5" height="3.5" fill="#008000"/>
<rect x="1217.75" y="161.25" width="3.5" height="3.5" fill="#008000"/>
<rect x="1221.25" y="154.95" width="3.5" height="3.5" fill="#008000"/>
<rect x="1224.85" y="149.65" width="3.5" height="3.5" fill="#008000"/>
<rect x="1228.45" y="145.15" width="3.5" height="3.5" fill="#008000"/>
<rect x="1233.75" y="140.75" width="3.5" height="3.5" fill="#008000"/>
<rect x="1240.85" y="137.15" width="3.5" height="3.5" fill="#008000"/>
<rect x="1248.95" y="135.85" width="3.5" height="3.5" fill="#008000"/>
<rect x="1256.95" y="136.25" width="3.5" height="3.5" fill="#008000"/>
<rect x="1264.95" y="139.85" width="3.5" height="3.5" fill="#008000"/>
<rect x="1271.15" y="145.15" width="3.5" height="3.5" fill="#008000"/>
<rect x="1275.65" y="151.45" width="3.5" height="3.5" fill="#008000"/>
<rect x="1278.65" y="156.75" width="3.5" height="3.5" fill="#008000"/>
<rect x="1279.75" y="162.95" width="3.5" height="3.5" fill="#008000"/>
<rect x="1279.75" y="169.25" width="3.5" height="3.5" fill="#008000"/>
<rect x="1216.25" y="158.25" width="3.5" height="3.5" fill="#008000"/>
<rect x="1218.75" y="158.25" width="3.5" height="3.5" fill="#008000"/>
<rect x="1279.75" y="166.25" width="3.5" height="3.5" fill="#008000"/>
<polyline points="1117,171.9 1117.5,166 1118.8,161.2 1120.5,158 1123.3,154.9 1126,154.2 1128.6,154 1131.5,155 1134.8,156.7 1137.5,159.5 1139.3,163 1141,165.3 1142,165.6 1143.3,163.5 1144.6,161.2 1147,160.5 1149.1,161.2 1151,163 1151.8,164.7 1151,166.5 1150,167.4" fill="none" stroke="#0000FF" stroke-width="2.5" stroke-linejoin="round"/>
<rect x="1115.1" y="170" width="3.8" height="3.8" fill="#0000FF"/>
<rect x="1115.6" y="164.1" width="3.8" height="3.8" fill="#0000FF"/>
<rect x="1116.9" y="159.3" width="3.8" height="3.8" fill="#0000FF"/>
<rect x="1118.6" y="156.1" width="3.8" height="3.8" fill="#0000FF"/>
<rect x="1121.4" y="153" width="3.8" height="3.8" fill="#0000FF"/>
<rect x="1124.1" y="152.3" width="3.8" height="3.8" fill="#0000FF"/>
<rect x="1126.7" y="152.1" width="3.8" height="3.8" fill="#0000FF"/>
<rect x="1129.6" y="153.1" width="3.8" height="3.8" fill="#0000FF"/>
<rect x="1132.9" y="154.8" width="3.8" height="3.8" fill="#0000FF"/>
<rect x="1135.6" y="157.6" width="3.8" height="3.8" fill="#0000FF"/>
<rect x="1137.4" y="161.1" width="3.8" height="3.8" fill="#0000FF"/>
<rect x="1139.1" y="163.4" width="3.8" height="3.8" fill="#0000FF"/>
<rect x="1140.1" y="163.7" width="3.8" height="3.8" fill="#0000FF"/>
<rect x="1141.4" y="161.6" width="3.8" height="3.8" fill="#0000FF"/>
<rect x="1142.7" y="159.3" width="3.8" height="3.8" fill="#0000FF"/>
<rect x="1145.1" y="158.6" width="3.8" height="3.8" fill="#0000FF"/>
<rect x="1147.2" y="159.3" width="3.8" height="3.8" fill="#0000FF"/>
<rect x="1149.1" y="161.1" width="3.8" height="3.8" fill="#0000FF"/>
<rect x="1149.9" y="162.8" width="3.8" height="3.8" fill="#0000FF"/>
<rect x="1149.1" y="164.6" width="3.8" height="3.8" fill="#0000FF"/>
<rect x="1148.1" y="165.5" width="3.8" height="3.8" fill="#0000FF"/>
</g>
<text x="0" y="506.4" font-size="43" font-weight="bold">c</text>
<line x1="114.1" y1="816.5" x2="120.6" y2="816.5" stroke="#000" stroke-width="2"/>
<line x1="116.8" y1="779.51" x2="120.6" y2="779.51" stroke="#000" stroke-width="1.8"/>
<line x1="114.1" y1="763.58" x2="120.6" y2="763.58" stroke="#000" stroke-width="2"/>
<line x1="116.8" y1="726.59" x2="120.6" y2="726.59" stroke="#000" stroke-width="1.8"/>
<line x1="114.1" y1="710.66" x2="120.6" y2="710.66" stroke="#000" stroke-width="2"/>
<line x1="116.8" y1="673.67" x2="120.6" y2="673.67" stroke="#000" stroke-width="1.8"/>
<line x1="114.1" y1="657.74" x2="120.6" y2="657.74" stroke="#000" stroke-width="2"/>
<line x1="116.8" y1="620.75" x2="120.6" y2="620.75" stroke="#000" stroke-width="1.8"/>
<line x1="114.1" y1="604.82" x2="120.6" y2="604.82" stroke="#000" stroke-width="2"/>
<line x1="116.8" y1="567.83" x2="120.6" y2="567.83" stroke="#000" stroke-width="1.8"/>
<line x1="114.1" y1="551.9" x2="120.6" y2="551.9" stroke="#000" stroke-width="2"/>
<line x1="116.8" y1="514.91" x2="120.6" y2="514.91" stroke="#000" stroke-width="1.8"/>
<line x1="114.1" y1="498.98" x2="120.6" y2="498.98" stroke="#000" stroke-width="2"/>
<text x="101.5" y="832.8" font-size="29" text-anchor="end">10<tspan font-size="19.5" dy="-12.8">0</tspan></text>
<text x="101.5" y="779.88" font-size="29" text-anchor="end">10<tspan font-size="19.5" dy="-12.8">1</tspan></text>
<text x="101.5" y="726.96" font-size="29" text-anchor="end">10<tspan font-size="19.5" dy="-12.8">2</tspan></text>
<text x="101.5" y="674.04" font-size="29" text-anchor="end">10<tspan font-size="19.5" dy="-12.8">3</tspan></text>
<text x="101.5" y="621.12" font-size="29" text-anchor="end">10<tspan font-size="19.5" dy="-12.8">4</tspan></text>
<text x="101.5" y="568.2" font-size="29" text-anchor="end">10<tspan font-size="19.5" dy="-12.8">5</tspan></text>
<text x="101.5" y="515.28" font-size="29" text-anchor="end">10<tspan font-size="19.5" dy="-12.8">6</tspan></text>
<line x1="120.6" y1="816.7" x2="120.6" y2="823.2" stroke="#000" stroke-width="2"/>
<line x1="166.91" y1="816.7" x2="166.91" y2="820.5" stroke="#000" stroke-width="1.8"/>
<line x1="186.85" y1="816.7" x2="186.85" y2="823.2" stroke="#000" stroke-width="2"/>
<line x1="233.16" y1="816.7" x2="233.16" y2="820.5" stroke="#000" stroke-width="1.8"/>
<line x1="253.1" y1="816.7" x2="253.1" y2="823.2" stroke="#000" stroke-width="2"/>
<line x1="299.41" y1="816.7" x2="299.41" y2="820.5" stroke="#000" stroke-width="1.8"/>
<line x1="319.35" y1="816.7" x2="319.35" y2="823.2" stroke="#000" stroke-width="2"/>
<line x1="365.66" y1="816.7" x2="365.66" y2="820.5" stroke="#000" stroke-width="1.8"/>
<line x1="385.6" y1="816.7" x2="385.6" y2="823.2" stroke="#000" stroke-width="2"/>
<line x1="431.91" y1="816.7" x2="431.91" y2="820.5" stroke="#000" stroke-width="1.8"/>
<line x1="451.85" y1="816.7" x2="451.85" y2="823.2" stroke="#000" stroke-width="2"/>
<line x1="498.16" y1="816.7" x2="498.16" y2="820.5" stroke="#000" stroke-width="1.8"/>
<line x1="518.1" y1="816.7" x2="518.1" y2="823.2" stroke="#000" stroke-width="2"/>
<line x1="564.41" y1="816.7" x2="564.41" y2="820.5" stroke="#000" stroke-width="1.8"/>
<line x1="584.35" y1="816.7" x2="584.35" y2="823.2" stroke="#000" stroke-width="2"/>
<text x="120.6" y="861.6" font-size="29" text-anchor="middle">10<tspan font-size="19.5" dy="-12.8" dx="-0.4">–1</tspan></text>
<text x="186.85" y="861.6" font-size="29" text-anchor="middle">10<tspan font-size="19.5" dy="-12.8">0</tspan></text>
<text x="253.1" y="861.6" font-size="29" text-anchor="middle">10<tspan font-size="19.5" dy="-12.8">1</tspan></text>
<text x="319.35" y="861.6" font-size="29" text-anchor="middle">10<tspan font-size="19.5" dy="-12.8">2</tspan></text>
<text x="385.6" y="861.6" font-size="29" text-anchor="middle">10<tspan font-size="19.5" dy="-12.8">3</tspan></text>
<text x="451.85" y="861.6" font-size="29" text-anchor="middle">10<tspan font-size="19.5" dy="-12.8">4</tspan></text>
<text x="518.1" y="861.6" font-size="29" text-anchor="middle">10<tspan font-size="19.5" dy="-12.8">5</tspan></text>
<text x="584.35" y="861.6" font-size="29" text-anchor="middle">10<tspan font-size="19.5" dy="-12.8">6</tspan></text>
<text x="349.6" y="901.6" font-size="29.3" text-anchor="middle">Frequency (Hz)</text>
<text x="39" y="651.4" font-size="29" text-anchor="middle" word-spacing="0" transform="rotate(-90 39 651.4)"><tspan font-style="italic">R</tspan> (<tspan font-family="Liberation Serif">Ω</tspan> cm<tspan font-size="19.5" dy="-12">2</tspan><tspan dy="12">)</tspan></text>
<clipPath id="cc"><rect x="120.6" y="483.7" width="464.9" height="333.00000000000006"/></clipPath>
<g clip-path="url(#cc)">
<path d="M118,627.3 C118.38,627.28 114.87,627.52 120.3,627.2 C125.73,626.88 139.6,625.93 150.6,625.4 C161.6,624.87 175.9,624 186.3,624 C196.7,624 205.58,624.57 213,625.4 C220.42,626.23 223.97,627.07 230.8,629 C237.63,630.93 246.57,634.63 254,637 C261.43,639.37 267.38,641.57 275.4,643.2 C283.42,644.83 293.2,645.75 302.1,646.8 C311,647.85 321.18,648.75 328.8,649.5 C336.42,650.25 341.67,650.27 347.8,651.3 C353.93,652.33 359.65,653.63 365.6,655.7 C371.55,657.77 377.55,659.98 383.5,663.7 C389.45,667.42 395.97,673.23 401.3,678 C406.63,682.77 410.75,687.25 415.5,692.3 C420.25,697.35 425.05,702.97 429.8,708.3 C434.55,713.63 439.25,719.25 444,724.3 C448.75,729.35 453.53,734.13 458.3,738.6 C463.07,743.07 467.25,747.53 472.6,751.1 C477.95,754.67 482.98,757.63 490.4,760 C497.82,762.37 500.83,764.12 517.1,765.3 C533.37,766.48 576.18,766.8 588,767.1" fill="none" stroke="#F2A264" stroke-width="3.3" stroke-linejoin="round" stroke-linecap="round"/>
<path d="M118,566.5 C118.38,566.52 116.35,566.28 120.3,566.6 C124.25,566.92 135.17,567.22 141.7,568.4 C148.23,569.58 153.55,571.32 159.5,573.7 C165.45,576.08 171.45,579.13 177.4,582.7 C183.35,586.27 189.27,590.95 195.2,595.1 C201.13,599.25 207.07,603.73 213,607.6 C218.93,611.47 224.87,615.18 230.8,618.3 C236.73,621.42 242.07,623.92 248.6,626.3 C255.13,628.68 262.57,630.97 270,632.6 C277.43,634.23 284.88,634.92 293.2,636.1 C301.52,637.28 310.8,638.22 319.9,639.7 C329,641.18 340.18,643.22 347.8,645 C355.42,646.78 359.65,647.87 365.6,650.4 C371.55,652.93 377.55,655.9 383.5,660.2 C389.45,664.5 395.97,671.15 401.3,676.2 C406.63,681.25 410.75,685.75 415.5,690.5 C420.25,695.25 425.05,699.35 429.8,704.7 C434.55,710.05 439.25,717.25 444,722.6 C448.75,727.95 453.53,732.35 458.3,736.8 C463.07,741.25 467.85,745.73 472.6,749.3 C477.35,752.87 480.87,755.68 486.8,758.2 C492.73,760.72 498.7,762.92 508.2,764.4 C517.7,765.88 530.5,766.65 543.8,767.1 C557.1,767.55 580.63,767.1 588,767.1" fill="none" stroke="#FF7F00" stroke-width="3.3" stroke-linejoin="round" stroke-linecap="round"/>
<path d="M118,682.4 C118.38,682.4 116.35,682.4 120.3,682.4 C124.25,682.4 133.67,682.83 141.7,682.4 C149.73,681.97 158.1,680.68 168.5,679.8 C178.9,678.92 189.25,677.85 204.1,677.1 C218.95,676.35 238.3,675.9 257.6,675.3 C276.9,674.7 305.07,673.8 319.9,673.5 C334.73,673.2 338.98,673.2 346.6,673.5 C354.22,673.8 359.45,674.7 365.6,675.3 C371.75,675.9 377.55,676.05 383.5,677.1 C389.45,678.15 395.97,679.67 401.3,681.6 C406.63,683.53 410.75,685.73 415.5,688.7 C420.25,691.67 425.05,695.25 429.8,699.4 C434.55,703.55 439.25,708.55 444,713.6 C448.75,718.65 453.53,724.65 458.3,729.7 C463.07,734.75 467.85,739.75 472.6,743.9 C477.35,748.05 482.05,751.62 486.8,754.6 C491.55,757.58 494.57,759.87 501.1,761.8 C507.63,763.73 511.52,765.32 526,766.2 C540.48,767.08 577.67,766.95 588,767.1" fill="none" stroke="#000" stroke-width="3.3" stroke-linejoin="round" stroke-linecap="round"/>
<path d="M118,724.2 C118.38,724.18 111.63,724.82 120.3,724.1 C128.97,723.38 151.1,721.52 170,719.9 C188.9,718.28 212.45,715.82 233.7,714.4 C254.95,712.98 281.45,711.97 297.5,711.4 C313.55,710.83 318.65,711.45 330,711 C341.35,710.55 353.72,709 365.6,708.7 C377.48,708.4 390.9,708.92 401.3,709.2 C411.7,709.48 420.58,709.8 428,710.4 C435.42,711 440.45,711.52 445.8,712.8 C451.15,714.08 455.63,715.88 460.1,718.1 C464.57,720.32 468.15,722.98 472.6,726.1 C477.05,729.22 482.05,733.23 486.8,736.8 C491.55,740.37 496.35,744.23 501.1,747.5 C505.85,750.77 509.67,753.73 515.3,756.4 C520.93,759.07 527.18,761.87 534.9,763.5 C542.62,765.13 552.75,765.67 561.6,766.2 C570.45,766.73 583.6,766.62 588,766.7" fill="none" stroke="#FF0000" stroke-width="3.3" stroke-linejoin="round" stroke-linecap="round"/>
<path d="M118,746.3 C118.38,746.28 108.1,747.07 120.3,746.2 C132.5,745.33 168.75,742.65 191.2,741.1 C213.65,739.55 231.87,738.07 255,736.9 C278.13,735.73 308.58,734.85 330,734.1 C351.42,733.35 365.68,732.68 383.5,732.4 C401.32,732.12 423.55,732.12 436.9,732.4 C450.25,732.68 456.17,733.37 463.6,734.1 C471.03,734.83 475.55,735.17 481.5,736.8 C487.45,738.43 493.37,741.23 499.3,743.9 C505.23,746.57 511.17,750.12 517.1,752.8 C523.03,755.48 528.97,758.22 534.9,760 C540.83,761.78 543.85,762.62 552.7,763.5 C561.55,764.38 582.12,765 588,765.3" fill="none" stroke="#008000" stroke-width="3.3" stroke-linejoin="round" stroke-linecap="round"/>
<path d="M118,757 C118.38,756.98 108.1,757.63 120.3,756.9 C132.5,756.17 168.75,753.82 191.2,752.6 C213.65,751.38 231.87,750.45 255,749.6 C278.13,748.75 308.58,748 330,747.5 C351.42,747 362.72,746.75 383.5,746.6 C404.28,746.45 438.37,746.45 454.7,746.6 C471.03,746.75 474.07,746.9 481.5,747.5 C488.93,748.1 493.37,748.87 499.3,750.2 C505.23,751.53 511.17,753.57 517.1,755.5 C523.03,757.43 528.97,760.02 534.9,761.8 C540.83,763.58 543.85,764.95 552.7,766.2 C561.55,767.45 582.12,768.78 588,769.3" fill="none" stroke="#0000FF" stroke-width="3.3" stroke-linejoin="round" stroke-linecap="round"/>
<path d="M118,514 C118.38,514.15 117.23,513.25 120.3,514.9 C123.37,516.55 130.75,520.63 136.4,523.9 C142.05,527.17 147.67,530.2 154.2,534.5 C160.73,538.8 168.77,544.35 175.6,549.7 C182.43,555.05 188.67,560.82 195.2,566.6 C201.73,572.38 208.57,579.05 214.8,584.4 C221.03,589.75 226.67,594.68 232.6,598.7 C238.53,602.72 243.87,605.38 250.4,608.5 C256.93,611.62 264.67,615.02 271.8,617.4 C278.93,619.78 285.18,621.17 293.2,622.8 C301.22,624.43 312.18,625.87 319.9,627.2 C327.62,628.53 333.85,629.32 339.5,630.8 C345.15,632.28 349.45,634.17 353.8,636.1 C358.15,638.03 360.65,638.98 365.6,642.4 C370.55,645.82 378.15,652.15 383.5,656.6 C388.85,661.05 393.25,664.93 397.7,669.1 C402.15,673.27 406.03,676.85 410.2,681.6 C414.37,686.35 418.55,691.97 422.7,697.6 C426.85,703.23 430.95,709.47 435.1,715.4 C439.25,721.33 443.43,727.55 447.6,733.2 C451.77,738.85 455.93,744.53 460.1,749.3 C464.27,754.07 468.15,758.23 472.6,761.8 C477.05,765.37 480.87,768.33 486.8,770.7 C492.73,773.07 500.18,774.67 508.2,776 C516.22,777.33 521.6,778.1 534.9,778.7 C548.2,779.3 579.15,779.45 588,779.6" fill="none" stroke="#FF0080" stroke-width="3.3" stroke-linejoin="round" stroke-linecap="round"/>
</g>
<circle cx="131.7" cy="526.5" r="4.5" fill="#FF0080"/>
<circle cx="131.7" cy="618.7" r="4.5" fill="#F2A264"/>
<circle cx="131.7" cy="654" r="4.5" fill="#000"/>
<circle cx="131.7" cy="698.6" r="4.5" fill="#FF0000"/>
<circle cx="131.7" cy="725" r="4.5" fill="#008000"/>
<path d="M350.6,603.23 L352.14,607.29 L356.47,607.49 L353.08,610.21 L354.23,614.4 L350.6,612.01 L346.97,614.4 L348.12,610.21 L344.73,607.49 L349.06,607.29Z" fill="#FF0080"/>
<path d="M346.4,628.33 L347.94,632.39 L352.27,632.59 L348.88,635.31 L350.03,639.5 L346.4,637.11 L342.77,639.5 L343.92,635.31 L340.53,632.59 L344.86,632.39Z" fill="#F2A264"/>
<path d="M323.8,644.43 L325.34,648.49 L329.67,648.69 L326.28,651.41 L327.43,655.6 L323.8,653.21 L320.17,655.6 L321.32,651.41 L317.93,648.69 L322.26,648.49Z" fill="#000"/>
<path d="M381.6,672.93 L383.14,676.99 L387.47,677.19 L384.08,679.91 L385.23,684.1 L381.6,681.71 L377.97,684.1 L379.12,679.91 L375.73,677.19 L380.06,676.99Z" fill="#FF0000"/>
<path d="M391,699.73 L392.54,703.79 L396.87,703.99 L393.48,706.71 L394.63,710.9 L391,708.51 L387.37,710.9 L388.52,706.71 L385.13,703.99 L389.46,703.79Z" fill="#008000"/>
<line x1="425.85" y1="499.4" x2="474.35" y2="499.4" stroke="#FF0080" stroke-width="3.5" stroke-linecap="round"/>
<text x="484" y="506.6" font-size="20.5">0.0 V</text>
<line x1="425.85" y1="529.93" x2="474.35" y2="529.93" stroke="#FF7F00" stroke-width="3.5" stroke-linecap="round"/>
<text x="484" y="537.13" font-size="20.5">0.6 V</text>
<line x1="425.85" y1="560.46" x2="474.35" y2="560.46" stroke="#F2A264" stroke-width="3.5" stroke-linecap="round"/>
<text x="484" y="567.66" font-size="20.5">0.7 V</text>
<line x1="425.85" y1="590.99" x2="474.35" y2="590.99" stroke="#000" stroke-width="3.5" stroke-linecap="round"/>
<text x="484" y="598.19" font-size="20.5">0.8 V</text>
<line x1="425.85" y1="621.52" x2="474.35" y2="621.52" stroke="#FF0000" stroke-width="3.5" stroke-linecap="round"/>
<text x="484" y="628.72" font-size="20.5">0.9 V</text>
<line x1="425.85" y1="652.05" x2="474.35" y2="652.05" stroke="#008000" stroke-width="3.5" stroke-linecap="round"/>
<text x="484" y="659.25" font-size="20.5">1.0 V</text>
<line x1="425.85" y1="682.58" x2="474.35" y2="682.58" stroke="#0000FF" stroke-width="3.5" stroke-linecap="round"/>
<text x="484" y="689.78" font-size="20.5">1.1 V</text>
<rect x="120.6" y="483.7" width="464.9" height="333" fill="none" stroke="#000" stroke-width="3"/>
<text x="707" y="512.6" font-size="43" font-weight="bold">d</text>
<line x1="828.8" y1="820" x2="835.3" y2="820" stroke="#000" stroke-width="2"/>
<line x1="831.5" y1="794.71" x2="835.3" y2="794.71" stroke="#000" stroke-width="1.8"/>
<line x1="831.5" y1="779.92" x2="835.3" y2="779.92" stroke="#000" stroke-width="1.8"/>
<line x1="831.5" y1="769.43" x2="835.3" y2="769.43" stroke="#000" stroke-width="1.8"/>
<line x1="831.5" y1="761.29" x2="835.3" y2="761.29" stroke="#000" stroke-width="1.8"/>
<line x1="831.5" y1="754.64" x2="835.3" y2="754.64" stroke="#000" stroke-width="1.8"/>
<line x1="831.5" y1="749.01" x2="835.3" y2="749.01" stroke="#000" stroke-width="1.8"/>
<line x1="831.5" y1="744.14" x2="835.3" y2="744.14" stroke="#000" stroke-width="1.8"/>
<line x1="831.5" y1="739.84" x2="835.3" y2="739.84" stroke="#000" stroke-width="1.8"/>
<line x1="828.8" y1="736" x2="835.3" y2="736" stroke="#000" stroke-width="2"/>
<line x1="831.5" y1="710.71" x2="835.3" y2="710.71" stroke="#000" stroke-width="1.8"/>
<line x1="831.5" y1="695.92" x2="835.3" y2="695.92" stroke="#000" stroke-width="1.8"/>
<line x1="831.5" y1="685.43" x2="835.3" y2="685.43" stroke="#000" stroke-width="1.8"/>
<line x1="831.5" y1="677.29" x2="835.3" y2="677.29" stroke="#000" stroke-width="1.8"/>
<line x1="831.5" y1="670.64" x2="835.3" y2="670.64" stroke="#000" stroke-width="1.8"/>
<line x1="831.5" y1="665.01" x2="835.3" y2="665.01" stroke="#000" stroke-width="1.8"/>
<line x1="831.5" y1="660.14" x2="835.3" y2="660.14" stroke="#000" stroke-width="1.8"/>
<line x1="831.5" y1="655.84" x2="835.3" y2="655.84" stroke="#000" stroke-width="1.8"/>
<line x1="828.8" y1="652" x2="835.3" y2="652" stroke="#000" stroke-width="2"/>
<line x1="831.5" y1="626.71" x2="835.3" y2="626.71" stroke="#000" stroke-width="1.8"/>
<line x1="831.5" y1="611.92" x2="835.3" y2="611.92" stroke="#000" stroke-width="1.8"/>
<line x1="831.5" y1="601.43" x2="835.3" y2="601.43" stroke="#000" stroke-width="1.8"/>
<line x1="831.5" y1="593.29" x2="835.3" y2="593.29" stroke="#000" stroke-width="1.8"/>
<line x1="831.5" y1="586.64" x2="835.3" y2="586.64" stroke="#000" stroke-width="1.8"/>
<line x1="831.5" y1="581.01" x2="835.3" y2="581.01" stroke="#000" stroke-width="1.8"/>
<line x1="831.5" y1="576.14" x2="835.3" y2="576.14" stroke="#000" stroke-width="1.8"/>
<line x1="831.5" y1="571.84" x2="835.3" y2="571.84" stroke="#000" stroke-width="1.8"/>
<line x1="828.8" y1="568" x2="835.3" y2="568" stroke="#000" stroke-width="2"/>
<line x1="831.5" y1="542.71" x2="835.3" y2="542.71" stroke="#000" stroke-width="1.8"/>
<line x1="831.5" y1="527.92" x2="835.3" y2="527.92" stroke="#000" stroke-width="1.8"/>
<line x1="831.5" y1="517.43" x2="835.3" y2="517.43" stroke="#000" stroke-width="1.8"/>
<line x1="831.5" y1="509.29" x2="835.3" y2="509.29" stroke="#000" stroke-width="1.8"/>
<line x1="831.5" y1="502.64" x2="835.3" y2="502.64" stroke="#000" stroke-width="1.8"/>
<line x1="831.5" y1="497.01" x2="835.3" y2="497.01" stroke="#000" stroke-width="1.8"/>
<line x1="831.5" y1="492.14" x2="835.3" y2="492.14" stroke="#000" stroke-width="1.8"/>
<line x1="831.5" y1="487.84" x2="835.3" y2="487.84" stroke="#000" stroke-width="1.8"/>
<text x="819.2" y="833.9" font-size="29" text-anchor="end">10<tspan font-size="19.5" dy="-12.8">0</tspan></text>
<text x="819.2" y="749.9" font-size="29" text-anchor="end">10<tspan font-size="19.5" dy="-12.8">1</tspan></text>
<text x="819.2" y="665.9" font-size="29" text-anchor="end">10<tspan font-size="19.5" dy="-12.8">2</tspan></text>
<text x="819.2" y="581.9" font-size="29" text-anchor="end">10<tspan font-size="19.5" dy="-12.8">3</tspan></text>
<line x1="835.3" y1="820" x2="835.3" y2="826.5" stroke="#000" stroke-width="2"/>
<line x1="881.99" y1="820" x2="881.99" y2="823.8" stroke="#000" stroke-width="1.8"/>
<line x1="902.1" y1="820" x2="902.1" y2="826.5" stroke="#000" stroke-width="2"/>
<line x1="948.79" y1="820" x2="948.79" y2="823.8" stroke="#000" stroke-width="1.8"/>
<line x1="968.9" y1="820" x2="968.9" y2="826.5" stroke="#000" stroke-width="2"/>
<line x1="1015.59" y1="820" x2="1015.59" y2="823.8" stroke="#000" stroke-width="1.8"/>
<line x1="1035.7" y1="820" x2="1035.7" y2="826.5" stroke="#000" stroke-width="2"/>
<line x1="1082.39" y1="820" x2="1082.39" y2="823.8" stroke="#000" stroke-width="1.8"/>
<line x1="1102.5" y1="820" x2="1102.5" y2="826.5" stroke="#000" stroke-width="2"/>
<line x1="1149.19" y1="820" x2="1149.19" y2="823.8" stroke="#000" stroke-width="1.8"/>
<line x1="1169.3" y1="820" x2="1169.3" y2="826.5" stroke="#000" stroke-width="2"/>
<line x1="1215.99" y1="820" x2="1215.99" y2="823.8" stroke="#000" stroke-width="1.8"/>
<line x1="1236.1" y1="820" x2="1236.1" y2="826.5" stroke="#000" stroke-width="2"/>
<line x1="1282.79" y1="820" x2="1282.79" y2="823.8" stroke="#000" stroke-width="1.8"/>
<line x1="1302.9" y1="820" x2="1302.9" y2="826.5" stroke="#000" stroke-width="2"/>
<text x="835.3" y="866.8" font-size="29" text-anchor="middle">10<tspan font-size="19.5" dy="-12.8" dx="-0.4">–1</tspan></text>
<text x="902.1" y="866.8" font-size="29" text-anchor="middle">10<tspan font-size="19.5" dy="-12.8">0</tspan></text>
<text x="968.9" y="866.8" font-size="29" text-anchor="middle">10<tspan font-size="19.5" dy="-12.8">1</tspan></text>
<text x="1035.7" y="866.8" font-size="29" text-anchor="middle">10<tspan font-size="19.5" dy="-12.8">2</tspan></text>
<text x="1102.5" y="866.8" font-size="29" text-anchor="middle">10<tspan font-size="19.5" dy="-12.8">3</tspan></text>
<text x="1169.3" y="866.8" font-size="29" text-anchor="middle">10<tspan font-size="19.5" dy="-12.8">4</tspan></text>
<text x="1236.1" y="866.8" font-size="29" text-anchor="middle">10<tspan font-size="19.5" dy="-12.8">5</tspan></text>
<text x="1302.9" y="866.8" font-size="29" text-anchor="middle">10<tspan font-size="19.5" dy="-12.8">6</tspan></text>
<text x="1065.2" y="907.7" font-size="29.3" text-anchor="middle">Frequency (Hz)</text>
<text x="751.3" y="652" font-size="29" text-anchor="middle" word-spacing="0" transform="rotate(-90 751.3 652)"><tspan font-style="italic">R</tspan> (<tspan font-family="Liberation Serif">Ω</tspan> cm<tspan font-size="19.5" dy="-12">2</tspan><tspan dy="12">)</tspan></text>
<clipPath id="cd"><rect x="835.3" y="486.8" width="467.29999999999995" height="333.2"/></clipPath>
<g clip-path="url(#cd)">
<path d="M833,521 C833.35,521 826.82,520.58 835.1,521 C843.38,521.42 868.38,521.38 882.7,523.5 C897.02,525.62 907.53,530.22 921,533.7 C934.47,537.18 950.75,542.27 963.5,544.4 C976.25,546.53 983.08,545.52 997.5,546.5 C1011.92,547.48 1036.8,548.93 1050,550.3 C1063.2,551.67 1068.68,552.18 1076.7,554.7 C1084.72,557.22 1092.45,561.68 1098.1,565.4 C1103.75,569.12 1106.73,572.68 1110.6,577 C1114.47,581.32 1117.73,585.95 1121.3,591.3 C1124.87,596.65 1128.43,602.57 1132,609.1 C1135.57,615.63 1139.13,623.08 1142.7,630.5 C1146.27,637.92 1149.85,645.88 1153.4,653.6 C1156.95,661.32 1160.45,669.37 1164,676.8 C1167.55,684.23 1170.83,690.77 1174.7,698.2 C1178.57,705.63 1183.33,715.17 1187.2,721.4 C1191.07,727.63 1194.03,731 1197.9,735.6 C1201.77,740.2 1205.35,745.13 1210.4,749 C1215.45,752.87 1222.27,755.83 1228.2,758.8 C1234.13,761.77 1240.07,764.43 1246,766.8 C1251.93,769.17 1257.87,771.22 1263.8,773 C1269.73,774.78 1275.35,776.3 1281.6,777.5 C1287.85,778.7 1297.4,779.7 1301.3,780.2 C1305.2,780.7 1304.38,780.45 1305,780.5" fill="none" stroke="#000" stroke-width="3.3" stroke-linejoin="round" stroke-linecap="round"/>
<path d="M833,593.2 C833.35,593.2 828.93,593.05 835.1,593.2 C841.27,593.35 858.52,593.03 870,594.1 C881.48,595.17 891.25,597.27 904,599.6 C916.75,601.93 930.92,605.77 946.5,608.1 C962.08,610.43 980.25,612.68 997.5,613.6 C1014.75,614.52 1035.32,613.47 1050,613.6 C1064.68,613.73 1074.32,613.67 1085.6,614.4 C1096.88,615.13 1109.38,616.22 1117.7,618 C1126.02,619.78 1129.55,622.13 1135.5,625.1 C1141.45,628.07 1148.35,631.63 1153.4,635.8 C1158.45,639.97 1161.65,644.45 1165.8,650.1 C1169.95,655.75 1174.43,662.87 1178.3,669.7 C1182.17,676.53 1185.43,683.98 1189,691.1 C1192.57,698.22 1196.13,705.87 1199.7,712.4 C1203.27,718.93 1206.55,724.65 1210.4,730.3 C1214.25,735.95 1218.35,741.25 1222.8,746.3 C1227.25,751.35 1231.75,756.45 1237.1,760.6 C1242.45,764.75 1248.97,768.53 1254.9,771.2 C1260.83,773.87 1264.97,774.97 1272.7,776.6 C1280.43,778.23 1295.92,780.22 1301.3,781 C1306.68,781.78 1304.38,781.25 1305,781.3" fill="none" stroke="#FF0000" stroke-width="3.3" stroke-linejoin="round" stroke-linecap="round"/>
<path d="M833,660.4 C833.35,660.4 828.93,660.27 835.1,660.4 C841.27,660.53 857.1,660.35 870,661.2 C882.9,662.05 898.33,663.52 912.5,665.5 C926.67,667.48 937.3,671.12 955,673.1 C972.7,675.08 1002.87,676.78 1018.7,677.4 C1034.53,678.02 1035.87,676.9 1050,676.8 C1064.13,676.7 1088.65,676.5 1103.5,676.8 C1118.35,677.1 1129.02,677.7 1139.1,678.6 C1149.18,679.5 1156.58,680.12 1164,682.2 C1171.42,684.28 1177.65,687.83 1183.6,691.1 C1189.55,694.37 1194.65,697.35 1199.7,701.8 C1204.75,706.25 1209.15,711.87 1213.9,717.8 C1218.65,723.73 1223.45,731.47 1228.2,737.4 C1232.95,743.33 1237.05,748.65 1242.4,753.4 C1247.75,758.15 1253.77,762.48 1260.3,765.9 C1266.83,769.32 1274.77,771.82 1281.6,773.9 C1288.43,775.98 1297.4,777.58 1301.3,778.4 C1305.2,779.22 1304.38,778.73 1305,778.8" fill="none" stroke="#008000" stroke-width="3.3" stroke-linejoin="round" stroke-linecap="round"/>
<path d="M833,714.5 C833.35,714.48 830.93,714.68 835.1,714.4 C839.27,714.12 850.77,713.02 858,712.8 C865.23,712.58 868,712.13 878.5,713.1 C889,714.07 906.83,716.83 921,718.6 C935.17,720.37 942,722.65 963.5,723.7 C985,724.75 1023.7,724.7 1050,724.9 C1076.3,725.1 1102,724.6 1121.3,724.9 C1140.6,725.2 1153.92,725.65 1165.8,726.7 C1177.68,727.75 1185.17,729.42 1192.6,731.2 C1200.03,732.98 1204.47,734.58 1210.4,737.4 C1216.33,740.22 1222.27,743.95 1228.2,748.1 C1234.13,752.25 1240.07,758.45 1246,762.3 C1251.93,766.15 1257.87,768.82 1263.8,771.2 C1269.73,773.58 1275.35,775.25 1281.6,776.6 C1287.85,777.95 1297.4,778.8 1301.3,779.3 C1305.2,779.8 1304.38,779.55 1305,779.6" fill="none" stroke="#0000FF" stroke-width="3.3" stroke-linejoin="round" stroke-linecap="round"/>
</g>
<circle cx="858.1" cy="592.4" r="4.5" fill="#FF0000"/>
<circle cx="858.1" cy="660.4" r="4.5" fill="#008000"/>
<circle cx="858.1" cy="708.8" r="4.5" fill="#0000FF"/>
<path d="M1028.5,617.62 L1030.04,621.69 L1034.37,621.89 L1030.98,624.61 L1032.13,628.8 L1028.5,626.41 L1024.87,628.8 L1026.02,624.61 L1022.63,621.89 L1026.96,621.69Z" fill="#FF0000"/>
<path d="M1063.4,669.12 L1064.94,673.19 L1069.27,673.39 L1065.88,676.11 L1067.03,680.3 L1063.4,677.91 L1059.77,680.3 L1060.92,676.11 L1057.53,673.39 L1061.86,673.19Z" fill="#008000"/>
<path d="M1063.4,712.43 L1064.94,716.49 L1069.27,716.69 L1065.88,719.41 L1067.03,723.6 L1063.4,721.21 L1059.77,723.6 L1060.92,719.41 L1057.53,716.69 L1061.86,716.49Z" fill="#0000FF"/>
<line x1="1152.15" y1="514.5" x2="1200.75" y2="514.5" stroke="#000" stroke-width="3.5" stroke-linecap="round"/>
<text x="1209.3" y="521.7" font-size="20.5">0.8 V</text>
<line x1="1152.15" y1="545.1" x2="1200.75" y2="545.1" stroke="#FF0000" stroke-width="3.5" stroke-linecap="round"/>
<text x="1209.3" y="552.3" font-size="20.5">0.9 V</text>
<line x1="1152.15" y1="575.7" x2="1200.75" y2="575.7" stroke="#008000" stroke-width="3.5" stroke-linecap="round"/>
<text x="1209.3" y="582.9" font-size="20.5">1.0 V</text>
<line x1="1152.15" y1="606.3" x2="1200.75" y2="606.3" stroke="#0000FF" stroke-width="3.5" stroke-linecap="round"/>
<text x="1209.3" y="613.5" font-size="20.5">1.1 V</text>
<rect x="835.3" y="486.8" width="467.3" height="333.2" fill="none" stroke="#000" stroke-width="3"/>
<text x="-1.8" y="947.3" font-size="43" font-weight="bold">e</text>
<line x1="126" y1="1258" x2="132.5" y2="1258" stroke="#000" stroke-width="2"/>
<line x1="128.7" y1="1244.96" x2="132.5" y2="1244.96" stroke="#000" stroke-width="1.8"/>
<line x1="128.7" y1="1237.34" x2="132.5" y2="1237.34" stroke="#000" stroke-width="1.8"/>
<line x1="128.7" y1="1231.92" x2="132.5" y2="1231.92" stroke="#000" stroke-width="1.8"/>
<line x1="128.7" y1="1227.73" x2="132.5" y2="1227.73" stroke="#000" stroke-width="1.8"/>
<line x1="128.7" y1="1224.3" x2="132.5" y2="1224.3" stroke="#000" stroke-width="1.8"/>
<line x1="128.7" y1="1221.4" x2="132.5" y2="1221.4" stroke="#000" stroke-width="1.8"/>
<line x1="128.7" y1="1218.89" x2="132.5" y2="1218.89" stroke="#000" stroke-width="1.8"/>
<line x1="128.7" y1="1216.67" x2="132.5" y2="1216.67" stroke="#000" stroke-width="1.8"/>
<line x1="126" y1="1214.69" x2="132.5" y2="1214.69" stroke="#000" stroke-width="2"/>
<line x1="128.7" y1="1201.65" x2="132.5" y2="1201.65" stroke="#000" stroke-width="1.8"/>
<line x1="128.7" y1="1194.03" x2="132.5" y2="1194.03" stroke="#000" stroke-width="1.8"/>
<line x1="128.7" y1="1188.61" x2="132.5" y2="1188.61" stroke="#000" stroke-width="1.8"/>
<line x1="128.7" y1="1184.42" x2="132.5" y2="1184.42" stroke="#000" stroke-width="1.8"/>
<line x1="128.7" y1="1180.99" x2="132.5" y2="1180.99" stroke="#000" stroke-width="1.8"/>
<line x1="128.7" y1="1178.09" x2="132.5" y2="1178.09" stroke="#000" stroke-width="1.8"/>
<line x1="128.7" y1="1175.58" x2="132.5" y2="1175.58" stroke="#000" stroke-width="1.8"/>
<line x1="128.7" y1="1173.36" x2="132.5" y2="1173.36" stroke="#000" stroke-width="1.8"/>
<line x1="126" y1="1171.38" x2="132.5" y2="1171.38" stroke="#000" stroke-width="2"/>
<line x1="128.7" y1="1158.34" x2="132.5" y2="1158.34" stroke="#000" stroke-width="1.8"/>
<line x1="128.7" y1="1150.72" x2="132.5" y2="1150.72" stroke="#000" stroke-width="1.8"/>
<line x1="128.7" y1="1145.3" x2="132.5" y2="1145.3" stroke="#000" stroke-width="1.8"/>
<line x1="128.7" y1="1141.11" x2="132.5" y2="1141.11" stroke="#000" stroke-width="1.8"/>
<line x1="128.7" y1="1137.68" x2="132.5" y2="1137.68" stroke="#000" stroke-width="1.8"/>
<line x1="128.7" y1="1134.78" x2="132.5" y2="1134.78" stroke="#000" stroke-width="1.8"/>
<line x1="128.7" y1="1132.27" x2="132.5" y2="1132.27" stroke="#000" stroke-width="1.8"/>
<line x1="128.7" y1="1130.05" x2="132.5" y2="1130.05" stroke="#000" stroke-width="1.8"/>
<line x1="126" y1="1128.07" x2="132.5" y2="1128.07" stroke="#000" stroke-width="2"/>
<line x1="128.7" y1="1115.03" x2="132.5" y2="1115.03" stroke="#000" stroke-width="1.8"/>
<line x1="128.7" y1="1107.41" x2="132.5" y2="1107.41" stroke="#000" stroke-width="1.8"/>
<line x1="128.7" y1="1101.99" x2="132.5" y2="1101.99" stroke="#000" stroke-width="1.8"/>
<line x1="128.7" y1="1097.8" x2="132.5" y2="1097.8" stroke="#000" stroke-width="1.8"/>
<line x1="128.7" y1="1094.37" x2="132.5" y2="1094.37" stroke="#000" stroke-width="1.8"/>
<line x1="128.7" y1="1091.47" x2="132.5" y2="1091.47" stroke="#000" stroke-width="1.8"/>
<line x1="128.7" y1="1088.96" x2="132.5" y2="1088.96" stroke="#000" stroke-width="1.8"/>
<line x1="128.7" y1="1086.74" x2="132.5" y2="1086.74" stroke="#000" stroke-width="1.8"/>
<line x1="126" y1="1084.76" x2="132.5" y2="1084.76" stroke="#000" stroke-width="2"/>
<line x1="128.7" y1="1071.72" x2="132.5" y2="1071.72" stroke="#000" stroke-width="1.8"/>
<line x1="128.7" y1="1064.1" x2="132.5" y2="1064.1" stroke="#000" stroke-width="1.8"/>
<line x1="128.7" y1="1058.68" x2="132.5" y2="1058.68" stroke="#000" stroke-width="1.8"/>
<line x1="128.7" y1="1054.49" x2="132.5" y2="1054.49" stroke="#000" stroke-width="1.8"/>
<line x1="128.7" y1="1051.06" x2="132.5" y2="1051.06" stroke="#000" stroke-width="1.8"/>
<line x1="128.7" y1="1048.16" x2="132.5" y2="1048.16" stroke="#000" stroke-width="1.8"/>
<line x1="128.7" y1="1045.65" x2="132.5" y2="1045.65" stroke="#000" stroke-width="1.8"/>
<line x1="128.7" y1="1043.43" x2="132.5" y2="1043.43" stroke="#000" stroke-width="1.8"/>
<line x1="126" y1="1041.45" x2="132.5" y2="1041.45" stroke="#000" stroke-width="2"/>
<line x1="128.7" y1="1028.41" x2="132.5" y2="1028.41" stroke="#000" stroke-width="1.8"/>
<line x1="128.7" y1="1020.79" x2="132.5" y2="1020.79" stroke="#000" stroke-width="1.8"/>
<line x1="128.7" y1="1015.37" x2="132.5" y2="1015.37" stroke="#000" stroke-width="1.8"/>
<line x1="128.7" y1="1011.18" x2="132.5" y2="1011.18" stroke="#000" stroke-width="1.8"/>
<line x1="128.7" y1="1007.75" x2="132.5" y2="1007.75" stroke="#000" stroke-width="1.8"/>
<line x1="128.7" y1="1004.85" x2="132.5" y2="1004.85" stroke="#000" stroke-width="1.8"/>
<line x1="128.7" y1="1002.34" x2="132.5" y2="1002.34" stroke="#000" stroke-width="1.8"/>
<line x1="128.7" y1="1000.12" x2="132.5" y2="1000.12" stroke="#000" stroke-width="1.8"/>
<line x1="126" y1="998.14" x2="132.5" y2="998.14" stroke="#000" stroke-width="2"/>
<line x1="128.7" y1="985.1" x2="132.5" y2="985.1" stroke="#000" stroke-width="1.8"/>
<line x1="128.7" y1="977.48" x2="132.5" y2="977.48" stroke="#000" stroke-width="1.8"/>
<line x1="128.7" y1="972.06" x2="132.5" y2="972.06" stroke="#000" stroke-width="1.8"/>
<line x1="128.7" y1="967.87" x2="132.5" y2="967.87" stroke="#000" stroke-width="1.8"/>
<line x1="128.7" y1="964.44" x2="132.5" y2="964.44" stroke="#000" stroke-width="1.8"/>
<line x1="128.7" y1="961.54" x2="132.5" y2="961.54" stroke="#000" stroke-width="1.8"/>
<line x1="128.7" y1="959.03" x2="132.5" y2="959.03" stroke="#000" stroke-width="1.8"/>
<line x1="128.7" y1="956.81" x2="132.5" y2="956.81" stroke="#000" stroke-width="1.8"/>
<line x1="126" y1="954.83" x2="132.5" y2="954.83" stroke="#000" stroke-width="2"/>
<line x1="128.7" y1="941.79" x2="132.5" y2="941.79" stroke="#000" stroke-width="1.8"/>
<line x1="128.7" y1="934.17" x2="132.5" y2="934.17" stroke="#000" stroke-width="1.8"/>
<line x1="128.7" y1="928.75" x2="132.5" y2="928.75" stroke="#000" stroke-width="1.8"/>
<text x="114.5" y="1274.42" font-size="29" text-anchor="end">10<tspan font-size="19.5" dy="-12.8" dx="-0.4">–9</tspan></text>
<text x="114.5" y="1230.95" font-size="29" text-anchor="end">10<tspan font-size="19.5" dy="-12.8" dx="-0.4">–8</tspan></text>
<text x="114.5" y="1187.48" font-size="29" text-anchor="end">10<tspan font-size="19.5" dy="-12.8" dx="-0.4">–7</tspan></text>
<text x="114.5" y="1144.01" font-size="29" text-anchor="end">10<tspan font-size="19.5" dy="-12.8" dx="-0.4">–6</tspan></text>
<text x="114.5" y="1100.54" font-size="29" text-anchor="end">10<tspan font-size="19.5" dy="-12.8" dx="-0.4">–5</tspan></text>
<text x="114.5" y="1057.07" font-size="29" text-anchor="end">10<tspan font-size="19.5" dy="-12.8" dx="-0.4">–4</tspan></text>
<text x="114.5" y="1013.6" font-size="29" text-anchor="end">10<tspan font-size="19.5" dy="-12.8" dx="-0.4">–3</tspan></text>
<text x="114.5" y="970.13" font-size="29" text-anchor="end">10<tspan font-size="19.5" dy="-12.8" dx="-0.4">–2</tspan></text>
<line x1="132.5" y1="1258" x2="132.5" y2="1264.5" stroke="#000" stroke-width="2"/>
<line x1="152.49" y1="1258" x2="152.49" y2="1261.8" stroke="#000" stroke-width="1.8"/>
<line x1="164.18" y1="1258" x2="164.18" y2="1261.8" stroke="#000" stroke-width="1.8"/>
<line x1="172.48" y1="1258" x2="172.48" y2="1261.8" stroke="#000" stroke-width="1.8"/>
<line x1="178.91" y1="1258" x2="178.91" y2="1261.8" stroke="#000" stroke-width="1.8"/>
<line x1="184.17" y1="1258" x2="184.17" y2="1261.8" stroke="#000" stroke-width="1.8"/>
<line x1="188.61" y1="1258" x2="188.61" y2="1261.8" stroke="#000" stroke-width="1.8"/>
<line x1="192.47" y1="1258" x2="192.47" y2="1261.8" stroke="#000" stroke-width="1.8"/>
<line x1="195.86" y1="1258" x2="195.86" y2="1261.8" stroke="#000" stroke-width="1.8"/>
<line x1="198.9" y1="1258" x2="198.9" y2="1264.5" stroke="#000" stroke-width="2"/>
<line x1="218.89" y1="1258" x2="218.89" y2="1261.8" stroke="#000" stroke-width="1.8"/>
<line x1="230.58" y1="1258" x2="230.58" y2="1261.8" stroke="#000" stroke-width="1.8"/>
<line x1="238.88" y1="1258" x2="238.88" y2="1261.8" stroke="#000" stroke-width="1.8"/>
<line x1="245.31" y1="1258" x2="245.31" y2="1261.8" stroke="#000" stroke-width="1.8"/>
<line x1="250.57" y1="1258" x2="250.57" y2="1261.8" stroke="#000" stroke-width="1.8"/>
<line x1="255.01" y1="1258" x2="255.01" y2="1261.8" stroke="#000" stroke-width="1.8"/>
<line x1="258.87" y1="1258" x2="258.87" y2="1261.8" stroke="#000" stroke-width="1.8"/>
<line x1="262.26" y1="1258" x2="262.26" y2="1261.8" stroke="#000" stroke-width="1.8"/>
<line x1="265.3" y1="1258" x2="265.3" y2="1264.5" stroke="#000" stroke-width="2"/>
<line x1="285.29" y1="1258" x2="285.29" y2="1261.8" stroke="#000" stroke-width="1.8"/>
<line x1="296.98" y1="1258" x2="296.98" y2="1261.8" stroke="#000" stroke-width="1.8"/>
<line x1="305.28" y1="1258" x2="305.28" y2="1261.8" stroke="#000" stroke-width="1.8"/>
<line x1="311.71" y1="1258" x2="311.71" y2="1261.8" stroke="#000" stroke-width="1.8"/>
<line x1="316.97" y1="1258" x2="316.97" y2="1261.8" stroke="#000" stroke-width="1.8"/>
<line x1="321.41" y1="1258" x2="321.41" y2="1261.8" stroke="#000" stroke-width="1.8"/>
<line x1="325.27" y1="1258" x2="325.27" y2="1261.8" stroke="#000" stroke-width="1.8"/>
<line x1="328.66" y1="1258" x2="328.66" y2="1261.8" stroke="#000" stroke-width="1.8"/>
<line x1="331.7" y1="1258" x2="331.7" y2="1264.5" stroke="#000" stroke-width="2"/>
<line x1="351.69" y1="1258" x2="351.69" y2="1261.8" stroke="#000" stroke-width="1.8"/>
<line x1="363.38" y1="1258" x2="363.38" y2="1261.8" stroke="#000" stroke-width="1.8"/>
<line x1="371.68" y1="1258" x2="371.68" y2="1261.8" stroke="#000" stroke-width="1.8"/>
<line x1="378.11" y1="1258" x2="378.11" y2="1261.8" stroke="#000" stroke-width="1.8"/>
<line x1="383.37" y1="1258" x2="383.37" y2="1261.8" stroke="#000" stroke-width="1.8"/>
<line x1="387.81" y1="1258" x2="387.81" y2="1261.8" stroke="#000" stroke-width="1.8"/>
<line x1="391.67" y1="1258" x2="391.67" y2="1261.8" stroke="#000" stroke-width="1.8"/>
<line x1="395.06" y1="1258" x2="395.06" y2="1261.8" stroke="#000" stroke-width="1.8"/>
<line x1="398.1" y1="1258" x2="398.1" y2="1264.5" stroke="#000" stroke-width="2"/>
<line x1="418.09" y1="1258" x2="418.09" y2="1261.8" stroke="#000" stroke-width="1.8"/>
<line x1="429.78" y1="1258" x2="429.78" y2="1261.8" stroke="#000" stroke-width="1.8"/>
<line x1="438.08" y1="1258" x2="438.08" y2="1261.8" stroke="#000" stroke-width="1.8"/>
<line x1="444.51" y1="1258" x2="444.51" y2="1261.8" stroke="#000" stroke-width="1.8"/>
<line x1="449.77" y1="1258" x2="449.77" y2="1261.8" stroke="#000" stroke-width="1.8"/>
<line x1="454.21" y1="1258" x2="454.21" y2="1261.8" stroke="#000" stroke-width="1.8"/>
<line x1="458.07" y1="1258" x2="458.07" y2="1261.8" stroke="#000" stroke-width="1.8"/>
<line x1="461.46" y1="1258" x2="461.46" y2="1261.8" stroke="#000" stroke-width="1.8"/>
<line x1="464.5" y1="1258" x2="464.5" y2="1264.5" stroke="#000" stroke-width="2"/>
<line x1="484.49" y1="1258" x2="484.49" y2="1261.8" stroke="#000" stroke-width="1.8"/>
<line x1="496.18" y1="1258" x2="496.18" y2="1261.8" stroke="#000" stroke-width="1.8"/>
<line x1="504.48" y1="1258" x2="504.48" y2="1261.8" stroke="#000" stroke-width="1.8"/>
<line x1="510.91" y1="1258" x2="510.91" y2="1261.8" stroke="#000" stroke-width="1.8"/>
<line x1="516.17" y1="1258" x2="516.17" y2="1261.8" stroke="#000" stroke-width="1.8"/>
<line x1="520.61" y1="1258" x2="520.61" y2="1261.8" stroke="#000" stroke-width="1.8"/>
<line x1="524.47" y1="1258" x2="524.47" y2="1261.8" stroke="#000" stroke-width="1.8"/>
<line x1="527.86" y1="1258" x2="527.86" y2="1261.8" stroke="#000" stroke-width="1.8"/>
<line x1="530.9" y1="1258" x2="530.9" y2="1264.5" stroke="#000" stroke-width="2"/>
<line x1="550.89" y1="1258" x2="550.89" y2="1261.8" stroke="#000" stroke-width="1.8"/>
<line x1="562.58" y1="1258" x2="562.58" y2="1261.8" stroke="#000" stroke-width="1.8"/>
<line x1="570.88" y1="1258" x2="570.88" y2="1261.8" stroke="#000" stroke-width="1.8"/>
<line x1="577.31" y1="1258" x2="577.31" y2="1261.8" stroke="#000" stroke-width="1.8"/>
<line x1="582.57" y1="1258" x2="582.57" y2="1261.8" stroke="#000" stroke-width="1.8"/>
<line x1="587.01" y1="1258" x2="587.01" y2="1261.8" stroke="#000" stroke-width="1.8"/>
<line x1="590.87" y1="1258" x2="590.87" y2="1261.8" stroke="#000" stroke-width="1.8"/>
<line x1="594.26" y1="1258" x2="594.26" y2="1261.8" stroke="#000" stroke-width="1.8"/>
<line x1="597.3" y1="1258" x2="597.3" y2="1264.5" stroke="#000" stroke-width="2"/>
<text x="132.5" y="1300.1" font-size="29" text-anchor="middle">10<tspan font-size="19.5" dy="-12.8" dx="-0.4">–1</tspan></text>
<text x="198.9" y="1300.1" font-size="29" text-anchor="middle">10<tspan font-size="19.5" dy="-12.8">0</tspan></text>
<text x="265.3" y="1300.1" font-size="29" text-anchor="middle">10<tspan font-size="19.5" dy="-12.8">1</tspan></text>
<text x="331.7" y="1300.1" font-size="29" text-anchor="middle">10<tspan font-size="19.5" dy="-12.8">2</tspan></text>
<text x="398.1" y="1300.1" font-size="29" text-anchor="middle">10<tspan font-size="19.5" dy="-12.8">3</tspan></text>
<text x="464.5" y="1300.1" font-size="29" text-anchor="middle">10<tspan font-size="19.5" dy="-12.8">4</tspan></text>
<text x="530.9" y="1300.1" font-size="29" text-anchor="middle">10<tspan font-size="19.5" dy="-12.8">5</tspan></text>
<text x="597.3" y="1300.1" font-size="29" text-anchor="middle">10<tspan font-size="19.5" dy="-12.8">6</tspan></text>
<text x="366.3" y="1341.1" font-size="29.3" text-anchor="middle">Frequency (Hz)</text>
<text x="38.2" y="1091.1" font-size="29" text-anchor="middle" word-spacing="0" transform="rotate(-90 38.2 1091.1)">| <tspan font-style="italic">c</tspan> | (F cm<tspan font-size="19.5" dy="-12">−2</tspan><tspan dy="12">)</tspan></text>
<clipPath id="ce"><rect x="132.5" y="925.7" width="466.70000000000005" height="332.29999999999995"/></clipPath>
<g clip-path="url(#ce)">
<polyline points="132,1008.5 133.1,1008.9 152.6,1022.3 171.1,1035.6 189.6,1048 208.1,1062.4 224.6,1074.7 239,1087 257.5,1102.5 267.8,1113.8 278.1,1124 290.4,1137.4 302.7,1147.7 313,1159 324.3,1173.4 335.6,1215.6 346.9,1188.8 358.3,1178.5 368.5,1174.4 380.9,1172.8 427.3,1173.1 474.6,1173.9 514,1175.5 529.8,1177.8 540.8,1181.8 551.8,1188.1 562.9,1196.8 573.9,1209.4 585,1225.1 596,1250.4 599,1258.5 601,1264" fill="none" stroke="#000" stroke-width="3.3" stroke-linejoin="round"/>
<polyline points="132,976.5 133.1,977 154.7,990.4 177.3,1005.8 199.9,1021.2 222.5,1036.6 245.2,1054.1 263.7,1067.5 280.1,1080.9 302.7,1096.3 323.3,1111.7 341.8,1131.2 358.3,1149.7 369.6,1165.2 380.9,1196 391.2,1194.6 397.3,1189.8 403.6,1182.6 414.7,1178.6 435.2,1175.5 474.6,1175.5 514,1177 529.8,1179.4 540.8,1183.4 551.8,1188.9 562.9,1198.3 575.5,1212.5 585,1225.1 596.8,1253.5 601,1264" fill="none" stroke="#FF0000" stroke-width="3.3" stroke-linejoin="round"/>
<polyline points="132,965.2 133.1,965.7 154.7,977 179.4,992.4 208.1,1013 236.9,1032.5 263.7,1052.1 284.2,1065.4 300.7,1077.8 323.3,1095.3 341.8,1111.7 360.3,1130.2 376.8,1149.7 391.8,1176.3 403.6,1225.1 414.7,1196 427.3,1186.5 439.9,1182.6 458.8,1181.3 490.4,1181.3 518.7,1183.4 534.5,1186.5 550.3,1192.8 562.9,1201.5 573.9,1214.1 585,1228.3 596,1256.7 600,1264" fill="none" stroke="#008000" stroke-width="3.3" stroke-linejoin="round"/>
<polyline points="132,961.1 133.1,961.6 154.7,972.9 177.3,986.3 199.9,1001.7 224.6,1019.2 249.3,1037.7 273.9,1056.2 300.7,1073.7 325.3,1094.2 339.7,1108.6 358.3,1124 376.8,1147.7 393.4,1168.4 403.6,1192 414.7,1229.1 426.5,1198.3 438.3,1192 454.1,1189.2 482.5,1188.1 514,1189.7 529.8,1191.2 550.3,1197.5 562.9,1204.6 573.9,1214.1 585,1225.1 596.8,1250.4 600,1256" fill="none" stroke="#0000FF" stroke-width="3.3" stroke-linejoin="round"/>
</g>
<line x1="419.95" y1="954.3" x2="468.55" y2="954.3" stroke="#000" stroke-width="3.5" stroke-linecap="round"/>
<text x="481.5" y="961.5" font-size="20.5">0.8 V</text>
<line x1="419.95" y1="984.9" x2="468.55" y2="984.9" stroke="#FF0000" stroke-width="3.5" stroke-linecap="round"/>
<text x="481.5" y="992.1" font-size="20.5">0.9 V</text>
<line x1="419.95" y1="1015.5" x2="468.55" y2="1015.5" stroke="#008000" stroke-width="3.5" stroke-linecap="round"/>
<text x="481.5" y="1022.7" font-size="20.5">1.0 V</text>
<line x1="419.95" y1="1046.1" x2="468.55" y2="1046.1" stroke="#0000FF" stroke-width="3.5" stroke-linecap="round"/>
<text x="481.5" y="1053.3" font-size="20.5">1.1 V</text>
<rect x="132.5" y="925.7" width="466.7" height="332.3" fill="none" stroke="#000" stroke-width="3"/>
<text x="707.9" y="953.6" font-size="43" font-weight="bold">f</text>
<line x1="828.6" y1="1261.1" x2="835.1" y2="1261.1" stroke="#000" stroke-width="2"/>
<line x1="831.3" y1="1246.77" x2="835.1" y2="1246.77" stroke="#000" stroke-width="1.8"/>
<line x1="831.3" y1="1238.39" x2="835.1" y2="1238.39" stroke="#000" stroke-width="1.8"/>
<line x1="831.3" y1="1232.44" x2="835.1" y2="1232.44" stroke="#000" stroke-width="1.8"/>
<line x1="831.3" y1="1227.83" x2="835.1" y2="1227.83" stroke="#000" stroke-width="1.8"/>
<line x1="831.3" y1="1224.06" x2="835.1" y2="1224.06" stroke="#000" stroke-width="1.8"/>
<line x1="831.3" y1="1220.87" x2="835.1" y2="1220.87" stroke="#000" stroke-width="1.8"/>
<line x1="831.3" y1="1218.11" x2="835.1" y2="1218.11" stroke="#000" stroke-width="1.8"/>
<line x1="831.3" y1="1215.68" x2="835.1" y2="1215.68" stroke="#000" stroke-width="1.8"/>
<line x1="828.6" y1="1213.5" x2="835.1" y2="1213.5" stroke="#000" stroke-width="2"/>
<line x1="831.3" y1="1199.17" x2="835.1" y2="1199.17" stroke="#000" stroke-width="1.8"/>
<line x1="831.3" y1="1190.79" x2="835.1" y2="1190.79" stroke="#000" stroke-width="1.8"/>
<line x1="831.3" y1="1184.84" x2="835.1" y2="1184.84" stroke="#000" stroke-width="1.8"/>
<line x1="831.3" y1="1180.23" x2="835.1" y2="1180.23" stroke="#000" stroke-width="1.8"/>
<line x1="831.3" y1="1176.46" x2="835.1" y2="1176.46" stroke="#000" stroke-width="1.8"/>
<line x1="831.3" y1="1173.27" x2="835.1" y2="1173.27" stroke="#000" stroke-width="1.8"/>
<line x1="831.3" y1="1170.51" x2="835.1" y2="1170.51" stroke="#000" stroke-width="1.8"/>
<line x1="831.3" y1="1168.08" x2="835.1" y2="1168.08" stroke="#000" stroke-width="1.8"/>
<line x1="828.6" y1="1165.9" x2="835.1" y2="1165.9" stroke="#000" stroke-width="2"/>
<line x1="831.3" y1="1151.57" x2="835.1" y2="1151.57" stroke="#000" stroke-width="1.8"/>
<line x1="831.3" y1="1143.19" x2="835.1" y2="1143.19" stroke="#000" stroke-width="1.8"/>
<line x1="831.3" y1="1137.24" x2="835.1" y2="1137.24" stroke="#000" stroke-width="1.8"/>
<line x1="831.3" y1="1132.63" x2="835.1" y2="1132.63" stroke="#000" stroke-width="1.8"/>
<line x1="831.3" y1="1128.86" x2="835.1" y2="1128.86" stroke="#000" stroke-width="1.8"/>
<line x1="831.3" y1="1125.67" x2="835.1" y2="1125.67" stroke="#000" stroke-width="1.8"/>
<line x1="831.3" y1="1122.91" x2="835.1" y2="1122.91" stroke="#000" stroke-width="1.8"/>
<line x1="831.3" y1="1120.48" x2="835.1" y2="1120.48" stroke="#000" stroke-width="1.8"/>
<line x1="828.6" y1="1118.3" x2="835.1" y2="1118.3" stroke="#000" stroke-width="2"/>
<line x1="831.3" y1="1103.97" x2="835.1" y2="1103.97" stroke="#000" stroke-width="1.8"/>
<line x1="831.3" y1="1095.59" x2="835.1" y2="1095.59" stroke="#000" stroke-width="1.8"/>
<line x1="831.3" y1="1089.64" x2="835.1" y2="1089.64" stroke="#000" stroke-width="1.8"/>
<line x1="831.3" y1="1085.03" x2="835.1" y2="1085.03" stroke="#000" stroke-width="1.8"/>
<line x1="831.3" y1="1081.26" x2="835.1" y2="1081.26" stroke="#000" stroke-width="1.8"/>
<line x1="831.3" y1="1078.07" x2="835.1" y2="1078.07" stroke="#000" stroke-width="1.8"/>
<line x1="831.3" y1="1075.31" x2="835.1" y2="1075.31" stroke="#000" stroke-width="1.8"/>
<line x1="831.3" y1="1072.88" x2="835.1" y2="1072.88" stroke="#000" stroke-width="1.8"/>
<line x1="828.6" y1="1070.7" x2="835.1" y2="1070.7" stroke="#000" stroke-width="2"/>
<line x1="831.3" y1="1056.37" x2="835.1" y2="1056.37" stroke="#000" stroke-width="1.8"/>
<line x1="831.3" y1="1047.99" x2="835.1" y2="1047.99" stroke="#000" stroke-width="1.8"/>
<line x1="831.3" y1="1042.04" x2="835.1" y2="1042.04" stroke="#000" stroke-width="1.8"/>
<line x1="831.3" y1="1037.43" x2="835.1" y2="1037.43" stroke="#000" stroke-width="1.8"/>
<line x1="831.3" y1="1033.66" x2="835.1" y2="1033.66" stroke="#000" stroke-width="1.8"/>
<line x1="831.3" y1="1030.47" x2="835.1" y2="1030.47" stroke="#000" stroke-width="1.8"/>
<line x1="831.3" y1="1027.71" x2="835.1" y2="1027.71" stroke="#000" stroke-width="1.8"/>
<line x1="831.3" y1="1025.28" x2="835.1" y2="1025.28" stroke="#000" stroke-width="1.8"/>
<line x1="828.6" y1="1023.1" x2="835.1" y2="1023.1" stroke="#000" stroke-width="2"/>
<line x1="831.3" y1="1008.77" x2="835.1" y2="1008.77" stroke="#000" stroke-width="1.8"/>
<line x1="831.3" y1="1000.39" x2="835.1" y2="1000.39" stroke="#000" stroke-width="1.8"/>
<line x1="831.3" y1="994.44" x2="835.1" y2="994.44" stroke="#000" stroke-width="1.8"/>
<line x1="831.3" y1="989.83" x2="835.1" y2="989.83" stroke="#000" stroke-width="1.8"/>
<line x1="831.3" y1="986.06" x2="835.1" y2="986.06" stroke="#000" stroke-width="1.8"/>
<line x1="831.3" y1="982.87" x2="835.1" y2="982.87" stroke="#000" stroke-width="1.8"/>
<line x1="831.3" y1="980.11" x2="835.1" y2="980.11" stroke="#000" stroke-width="1.8"/>
<line x1="831.3" y1="977.68" x2="835.1" y2="977.68" stroke="#000" stroke-width="1.8"/>
<line x1="828.6" y1="975.5" x2="835.1" y2="975.5" stroke="#000" stroke-width="2"/>
<line x1="831.3" y1="961.17" x2="835.1" y2="961.17" stroke="#000" stroke-width="1.8"/>
<line x1="831.3" y1="952.79" x2="835.1" y2="952.79" stroke="#000" stroke-width="1.8"/>
<line x1="831.3" y1="946.84" x2="835.1" y2="946.84" stroke="#000" stroke-width="1.8"/>
<line x1="831.3" y1="942.23" x2="835.1" y2="942.23" stroke="#000" stroke-width="1.8"/>
<line x1="831.3" y1="938.46" x2="835.1" y2="938.46" stroke="#000" stroke-width="1.8"/>
<line x1="831.3" y1="935.27" x2="835.1" y2="935.27" stroke="#000" stroke-width="1.8"/>
<line x1="831.3" y1="932.51" x2="835.1" y2="932.51" stroke="#000" stroke-width="1.8"/>
<line x1="831.3" y1="930.08" x2="835.1" y2="930.08" stroke="#000" stroke-width="1.8"/>
<line x1="828.6" y1="927.9" x2="835.1" y2="927.9" stroke="#000" stroke-width="2"/>
<text x="816.2" y="1279.7" font-size="29" text-anchor="end">10<tspan font-size="19.5" dy="-12.8" dx="-0.4">–9</tspan></text>
<text x="816.2" y="1231.7" font-size="29" text-anchor="end">10<tspan font-size="19.5" dy="-12.8" dx="-0.4">–8</tspan></text>
<text x="816.2" y="1183.7" font-size="29" text-anchor="end">10<tspan font-size="19.5" dy="-12.8" dx="-0.4">–7</tspan></text>
<text x="816.2" y="1135.7" font-size="29" text-anchor="end">10<tspan font-size="19.5" dy="-12.8" dx="-0.4">–6</tspan></text>
<text x="816.2" y="1087.7" font-size="29" text-anchor="end">10<tspan font-size="19.5" dy="-12.8" dx="-0.4">–5</tspan></text>
<text x="816.2" y="1039.7" font-size="29" text-anchor="end">10<tspan font-size="19.5" dy="-12.8" dx="-0.4">–4</tspan></text>
<text x="816.2" y="991.7" font-size="29" text-anchor="end">10<tspan font-size="19.5" dy="-12.8" dx="-0.4">–3</tspan></text>
<text x="816.2" y="943.7" font-size="29" text-anchor="end">10<tspan font-size="19.5" dy="-12.8" dx="-0.4">–2</tspan></text>
<line x1="836.74" y1="1261.5" x2="836.74" y2="1265.3" stroke="#000" stroke-width="1.8"/>
<line x1="845.69" y1="1261.5" x2="845.69" y2="1265.3" stroke="#000" stroke-width="1.8"/>
<line x1="852.63" y1="1261.5" x2="852.63" y2="1265.3" stroke="#000" stroke-width="1.8"/>
<line x1="858.3" y1="1261.5" x2="858.3" y2="1265.3" stroke="#000" stroke-width="1.8"/>
<line x1="863.1" y1="1261.5" x2="863.1" y2="1265.3" stroke="#000" stroke-width="1.8"/>
<line x1="867.26" y1="1261.5" x2="867.26" y2="1265.3" stroke="#000" stroke-width="1.8"/>
<line x1="870.92" y1="1261.5" x2="870.92" y2="1265.3" stroke="#000" stroke-width="1.8"/>
<line x1="874.2" y1="1261.5" x2="874.2" y2="1268" stroke="#000" stroke-width="2"/>
<line x1="895.77" y1="1261.5" x2="895.77" y2="1265.3" stroke="#000" stroke-width="1.8"/>
<line x1="908.39" y1="1261.5" x2="908.39" y2="1265.3" stroke="#000" stroke-width="1.8"/>
<line x1="917.34" y1="1261.5" x2="917.34" y2="1265.3" stroke="#000" stroke-width="1.8"/>
<line x1="924.28" y1="1261.5" x2="924.28" y2="1265.3" stroke="#000" stroke-width="1.8"/>
<line x1="929.95" y1="1261.5" x2="929.95" y2="1265.3" stroke="#000" stroke-width="1.8"/>
<line x1="934.75" y1="1261.5" x2="934.75" y2="1265.3" stroke="#000" stroke-width="1.8"/>
<line x1="938.91" y1="1261.5" x2="938.91" y2="1265.3" stroke="#000" stroke-width="1.8"/>
<line x1="942.57" y1="1261.5" x2="942.57" y2="1265.3" stroke="#000" stroke-width="1.8"/>
<line x1="945.85" y1="1261.5" x2="945.85" y2="1268" stroke="#000" stroke-width="2"/>
<line x1="967.42" y1="1261.5" x2="967.42" y2="1265.3" stroke="#000" stroke-width="1.8"/>
<line x1="980.04" y1="1261.5" x2="980.04" y2="1265.3" stroke="#000" stroke-width="1.8"/>
<line x1="988.99" y1="1261.5" x2="988.99" y2="1265.3" stroke="#000" stroke-width="1.8"/>
<line x1="995.93" y1="1261.5" x2="995.93" y2="1265.3" stroke="#000" stroke-width="1.8"/>
<line x1="1001.6" y1="1261.5" x2="1001.6" y2="1265.3" stroke="#000" stroke-width="1.8"/>
<line x1="1006.4" y1="1261.5" x2="1006.4" y2="1265.3" stroke="#000" stroke-width="1.8"/>
<line x1="1010.56" y1="1261.5" x2="1010.56" y2="1265.3" stroke="#000" stroke-width="1.8"/>
<line x1="1014.22" y1="1261.5" x2="1014.22" y2="1265.3" stroke="#000" stroke-width="1.8"/>
<line x1="1017.5" y1="1261.5" x2="1017.5" y2="1268" stroke="#000" stroke-width="2"/>
<line x1="1039.07" y1="1261.5" x2="1039.07" y2="1265.3" stroke="#000" stroke-width="1.8"/>
<line x1="1051.69" y1="1261.5" x2="1051.69" y2="1265.3" stroke="#000" stroke-width="1.8"/>
<line x1="1060.64" y1="1261.5" x2="1060.64" y2="1265.3" stroke="#000" stroke-width="1.8"/>
<line x1="1067.58" y1="1261.5" x2="1067.58" y2="1265.3" stroke="#000" stroke-width="1.8"/>
<line x1="1073.25" y1="1261.5" x2="1073.25" y2="1265.3" stroke="#000" stroke-width="1.8"/>
<line x1="1078.05" y1="1261.5" x2="1078.05" y2="1265.3" stroke="#000" stroke-width="1.8"/>
<line x1="1082.21" y1="1261.5" x2="1082.21" y2="1265.3" stroke="#000" stroke-width="1.8"/>
<line x1="1085.87" y1="1261.5" x2="1085.87" y2="1265.3" stroke="#000" stroke-width="1.8"/>
<line x1="1089.15" y1="1261.5" x2="1089.15" y2="1268" stroke="#000" stroke-width="2"/>
<line x1="1110.72" y1="1261.5" x2="1110.72" y2="1265.3" stroke="#000" stroke-width="1.8"/>
<line x1="1123.34" y1="1261.5" x2="1123.34" y2="1265.3" stroke="#000" stroke-width="1.8"/>
<line x1="1132.29" y1="1261.5" x2="1132.29" y2="1265.3" stroke="#000" stroke-width="1.8"/>
<line x1="1139.23" y1="1261.5" x2="1139.23" y2="1265.3" stroke="#000" stroke-width="1.8"/>
<line x1="1144.9" y1="1261.5" x2="1144.9" y2="1265.3" stroke="#000" stroke-width="1.8"/>
<line x1="1149.7" y1="1261.5" x2="1149.7" y2="1265.3" stroke="#000" stroke-width="1.8"/>
<line x1="1153.86" y1="1261.5" x2="1153.86" y2="1265.3" stroke="#000" stroke-width="1.8"/>
<line x1="1157.52" y1="1261.5" x2="1157.52" y2="1265.3" stroke="#000" stroke-width="1.8"/>
<line x1="1160.8" y1="1261.5" x2="1160.8" y2="1268" stroke="#000" stroke-width="2"/>
<line x1="1182.37" y1="1261.5" x2="1182.37" y2="1265.3" stroke="#000" stroke-width="1.8"/>
<line x1="1194.99" y1="1261.5" x2="1194.99" y2="1265.3" stroke="#000" stroke-width="1.8"/>
<line x1="1203.94" y1="1261.5" x2="1203.94" y2="1265.3" stroke="#000" stroke-width="1.8"/>
<line x1="1210.88" y1="1261.5" x2="1210.88" y2="1265.3" stroke="#000" stroke-width="1.8"/>
<line x1="1216.55" y1="1261.5" x2="1216.55" y2="1265.3" stroke="#000" stroke-width="1.8"/>
<line x1="1221.35" y1="1261.5" x2="1221.35" y2="1265.3" stroke="#000" stroke-width="1.8"/>
<line x1="1225.51" y1="1261.5" x2="1225.51" y2="1265.3" stroke="#000" stroke-width="1.8"/>
<line x1="1229.17" y1="1261.5" x2="1229.17" y2="1265.3" stroke="#000" stroke-width="1.8"/>
<line x1="1232.45" y1="1261.5" x2="1232.45" y2="1268" stroke="#000" stroke-width="2"/>
<line x1="1254.02" y1="1261.5" x2="1254.02" y2="1265.3" stroke="#000" stroke-width="1.8"/>
<line x1="1266.64" y1="1261.5" x2="1266.64" y2="1265.3" stroke="#000" stroke-width="1.8"/>
<line x1="1275.59" y1="1261.5" x2="1275.59" y2="1265.3" stroke="#000" stroke-width="1.8"/>
<line x1="1282.53" y1="1261.5" x2="1282.53" y2="1265.3" stroke="#000" stroke-width="1.8"/>
<line x1="1288.2" y1="1261.5" x2="1288.2" y2="1265.3" stroke="#000" stroke-width="1.8"/>
<line x1="1293" y1="1261.5" x2="1293" y2="1265.3" stroke="#000" stroke-width="1.8"/>
<line x1="1297.16" y1="1261.5" x2="1297.16" y2="1265.3" stroke="#000" stroke-width="1.8"/>
<line x1="1300.82" y1="1261.5" x2="1300.82" y2="1265.3" stroke="#000" stroke-width="1.8"/>
<line x1="1304.1" y1="1261.5" x2="1304.1" y2="1268" stroke="#000" stroke-width="2"/>
<text x="874.2" y="1309.5" font-size="29" text-anchor="middle">10<tspan font-size="19.5" dy="-12.8">0</tspan></text>
<text x="945.85" y="1309.5" font-size="29" text-anchor="middle">10<tspan font-size="19.5" dy="-12.8">1</tspan></text>
<text x="1017.5" y="1309.5" font-size="29" text-anchor="middle">10<tspan font-size="19.5" dy="-12.8">2</tspan></text>
<text x="1089.15" y="1309.5" font-size="29" text-anchor="middle">10<tspan font-size="19.5" dy="-12.8">3</tspan></text>
<text x="1160.8" y="1309.5" font-size="29" text-anchor="middle">10<tspan font-size="19.5" dy="-12.8">4</tspan></text>
<text x="1232.45" y="1309.5" font-size="29" text-anchor="middle">10<tspan font-size="19.5" dy="-12.8">5</tspan></text>
<text x="1304.1" y="1309.5" font-size="29" text-anchor="middle">10<tspan font-size="19.5" dy="-12.8">6</tspan></text>
<text x="1068.4" y="1355.3" font-size="29.3" text-anchor="middle">Frequency (Hz)</text>
<text x="735.7" y="1089.3" font-size="29" text-anchor="middle" word-spacing="0" transform="rotate(-90 735.7 1089.3)"><tspan font-style="italic">C</tspan> (F cm<tspan font-size="19.5" dy="-12">−2</tspan><tspan dy="12">)</tspan></text>
<clipPath id="cf"><rect x="835.1" y="927" width="469.19999999999993" height="334.5"/></clipPath>
<g clip-path="url(#cf)">
<path d="M835,1069.4 C835.27,1069.4 835.32,1069.31 837.7,1069.4 C840.08,1069.49 854.77,1070.01 858.8,1070.3 C862.83,1070.59 873.78,1071.43 878,1072.3 C882.22,1073.17 896.59,1077.18 901,1079 C905.41,1080.82 917.69,1087.62 922.1,1090.5 C926.51,1093.38 940.88,1104.54 945.1,1107.8 C949.32,1111.06 960.46,1120.03 964.3,1123.1 C968.14,1126.17 979.66,1135.62 983.5,1138.5 C987.34,1141.38 998.86,1149.79 1002.7,1151.9 C1006.54,1154.01 1018.06,1158.35 1021.9,1159.6 C1025.74,1160.85 1037.26,1163.63 1041.1,1164.4 C1044.94,1165.17 1056.46,1166.86 1060.3,1167.3 C1064.14,1167.74 1075.53,1168.51 1079.5,1168.8 C1083.47,1169.09 1093.63,1169.96 1100,1170.2 C1106.37,1170.44 1134.56,1171.03 1143.2,1171.2 C1151.84,1171.37 1177.77,1171.69 1186.4,1171.9 C1195.03,1172.11 1223.03,1172.94 1229.5,1173.3 C1235.97,1173.66 1247.35,1175.07 1251.1,1175.5 C1254.85,1175.93 1264.26,1177.17 1267,1177.6 C1269.74,1178.03 1275.99,1178.86 1278.5,1179.8 C1281.01,1180.74 1290.23,1183.91 1292.1,1187 C1293.97,1190.09 1296.19,1205.73 1297.2,1210.7 C1298.21,1215.67 1301.55,1233.1 1302.2,1236.7 C1302.85,1240.3 1303.32,1244.17 1303.7,1246.7 C1304.08,1249.23 1305.77,1260.47 1306,1262" fill="none" stroke="#000" stroke-width="3.3" stroke-linejoin="round" stroke-linecap="round"/>
<path d="M835,1043.5 C835.27,1043.44 836.28,1043.29 837.7,1042.9 C839.12,1042.51 846.32,1040.06 849.2,1039.6 C852.08,1039.14 862.66,1038.1 866.5,1038.3 C870.34,1038.5 883.57,1040.41 887.6,1041.6 C891.63,1042.79 902.96,1048 906.8,1050.2 C910.64,1052.4 922.17,1060.53 926,1063.6 C929.83,1066.67 941.27,1077.25 945.1,1080.9 C948.93,1084.55 960.46,1096.26 964.3,1100.1 C968.14,1103.94 979.66,1115.75 983.5,1119.3 C987.34,1122.85 998.86,1132.72 1002.7,1135.6 C1006.54,1138.48 1018.06,1146.09 1021.9,1148.1 C1025.74,1150.11 1037.26,1154.46 1041.1,1155.7 C1044.94,1156.94 1056.46,1159.67 1060.3,1160.5 C1064.14,1161.33 1075.53,1163.41 1079.5,1164 C1083.47,1164.59 1093.63,1166 1100,1166.4 C1106.37,1166.8 1134.56,1167.74 1143.2,1168 C1151.84,1168.26 1177.77,1168.78 1186.4,1169 C1195.03,1169.22 1223.03,1169.94 1229.5,1170.2 C1235.97,1170.46 1247.35,1171.29 1251.1,1171.6 C1254.85,1171.91 1264.12,1172.77 1267,1173.3 C1269.88,1173.83 1277.46,1175.17 1279.9,1176.9 C1282.34,1178.63 1289.1,1186.78 1291.4,1190.6 C1293.7,1194.42 1301.44,1211.96 1302.9,1215.1 C1304.36,1218.24 1305.69,1221.31 1306,1222" fill="none" stroke="#FF0000" stroke-width="3.3" stroke-linejoin="round" stroke-linecap="round"/>
<path d="M835,1033.6 C835.27,1033.53 836.28,1033.39 837.7,1032.9 C839.12,1032.41 846.52,1029.22 849.2,1028.7 C851.88,1028.18 860.66,1027.28 864.5,1027.7 C868.34,1028.12 883.37,1031.42 887.6,1032.9 C891.83,1034.38 902.96,1040.19 906.8,1042.5 C910.64,1044.81 922.17,1052.93 926,1056 C929.83,1059.07 941.27,1069.56 945.1,1073.2 C948.93,1076.84 960.46,1088.37 964.3,1092.4 C968.14,1096.43 979.66,1109.28 983.5,1113.5 C987.34,1117.72 998.86,1130.57 1002.7,1134.6 C1006.54,1138.63 1018.06,1150.53 1021.9,1153.8 C1025.74,1157.07 1037.26,1165.09 1041.1,1167.3 C1044.94,1169.51 1056.46,1174.56 1060.3,1175.9 C1064.14,1177.24 1075.53,1180.02 1079.5,1180.7 C1083.47,1181.38 1095.07,1182.07 1100,1182.7 C1104.93,1183.33 1123.04,1186.31 1128.8,1187 C1134.56,1187.69 1150.41,1189.17 1157.6,1189.6 C1164.79,1190.03 1193.51,1190.94 1200.7,1191.3 C1207.89,1191.66 1224.46,1192.69 1229.5,1193.2 C1234.54,1193.71 1247.35,1195.58 1251.1,1196.4 C1254.85,1197.22 1264.26,1200.11 1267,1201.4 C1269.74,1202.69 1276.13,1206.28 1278.5,1209.3 C1280.87,1212.32 1288.33,1229.22 1290.7,1231.6 C1293.07,1233.98 1300.67,1232.91 1302.2,1233.1 C1303.73,1233.29 1305.62,1233.46 1306,1233.5" fill="none" stroke="#008000" stroke-width="3.3" stroke-linejoin="round" stroke-linecap="round"/>
<path d="M835,974.6 C835.27,974.58 836.09,974.56 837.7,974.4 C839.31,974.24 847.65,972.81 851.1,973 C854.55,973.19 867.98,975.01 872.2,976.3 C876.42,977.59 888.88,983.31 893.3,985.9 C897.72,988.49 911.98,998.84 916.4,1002.2 C920.82,1005.56 933.47,1015.85 937.5,1019.5 C941.53,1023.15 952.87,1034.67 956.7,1038.7 C960.53,1042.73 971.97,1055.58 975.8,1059.8 C979.63,1064.02 991.16,1076.87 995,1080.9 C998.84,1084.93 1010.36,1096.65 1014.2,1100.1 C1018.04,1103.55 1028.98,1112.14 1033.4,1115.4 C1037.82,1118.66 1053.79,1130.11 1058.4,1132.7 C1063.01,1135.29 1075.34,1140.14 1079.5,1141.3 C1083.66,1142.46 1095.07,1143.62 1100,1144.3 C1104.93,1144.98 1123.04,1147.21 1128.8,1148.1 C1134.56,1148.99 1151.12,1152.26 1157.6,1153.2 C1164.08,1154.14 1186.41,1156.71 1193.6,1157.5 C1200.79,1158.29 1224.47,1160.31 1229.5,1161.1 C1234.53,1161.89 1241.31,1164.47 1243.9,1165.4 C1246.49,1166.33 1253.09,1168.74 1255.4,1170.4 C1257.71,1172.06 1264.62,1178.25 1267,1182 C1269.38,1185.75 1276.76,1205.24 1279.2,1207.9 C1281.64,1210.56 1289.03,1209.68 1291.4,1208.6 C1293.77,1207.52 1301.44,1198.56 1302.9,1197.1 C1304.36,1195.64 1305.69,1194.31 1306,1194" fill="none" stroke="#0000FF" stroke-width="3.3" stroke-linejoin="round" stroke-linecap="round"/>
</g>
<line x1="1141.05" y1="955.9" x2="1190.25" y2="955.9" stroke="#000" stroke-width="3.5" stroke-linecap="round"/>
<text x="1199.3" y="963.1" font-size="20.5">0.8 V</text>
<line x1="1141.05" y1="986.5" x2="1190.25" y2="986.5" stroke="#FF0000" stroke-width="3.5" stroke-linecap="round"/>
<text x="1199.3" y="993.7" font-size="20.5">0.9 V</text>
<line x1="1141.05" y1="1017.1" x2="1190.25" y2="1017.1" stroke="#008000" stroke-width="3.5" stroke-linecap="round"/>
<text x="1199.3" y="1024.3" font-size="20.5">1.0 V</text>
<line x1="1141.05" y1="1047.7" x2="1190.25" y2="1047.7" stroke="#0000FF" stroke-width="3.5" stroke-linecap="round"/>
<text x="1199.3" y="1054.9" font-size="20.5">1.1 V</text>
<rect x="835.1" y="927" width="469.2" height="334.5" fill="none" stroke="#000" stroke-width="3"/>
<text x="0" y="1424.8" font-size="43" font-weight="bold">g</text>
<rect x="319" y="1413.2" width="242.7" height="131" fill="#00FFFF"/>
<line x1="115.6" y1="1413.2" x2="584.9" y2="1413.2" stroke="#000" stroke-width="3"/>
<line x1="115.6" y1="1746.6" x2="584.9" y2="1746.6" stroke="#000" stroke-width="3"/>
<line x1="116.9" y1="1413.2" x2="116.9" y2="1748.1" stroke="#FF3BAC" stroke-width="3.2"/>
<line x1="583.6" y1="1413.2" x2="583.6" y2="1748.1" stroke="#0000FF" stroke-width="3"/>
<line x1="116.92" y1="1413.2" x2="116.92" y2="1416.9" stroke="#000" stroke-width="2.2"/>
<line x1="116.92" y1="1746.6" x2="116.92" y2="1750.3" stroke="#000" stroke-width="2.2"/>
<line x1="155.8" y1="1413.2" x2="155.8" y2="1419.2" stroke="#000" stroke-width="2.2"/>
<line x1="155.8" y1="1746.6" x2="155.8" y2="1752.6" stroke="#000" stroke-width="2.2"/>
<text x="155.8" y="1789" font-size="28.5" text-anchor="middle">0.6</text>
<line x1="194.68" y1="1413.2" x2="194.68" y2="1416.9" stroke="#000" stroke-width="2.2"/>
<line x1="194.68" y1="1746.6" x2="194.68" y2="1750.3" stroke="#000" stroke-width="2.2"/>
<line x1="233.56" y1="1413.2" x2="233.56" y2="1419.2" stroke="#000" stroke-width="2.2"/>
<line x1="233.56" y1="1746.6" x2="233.56" y2="1752.6" stroke="#000" stroke-width="2.2"/>
<text x="233.56" y="1789" font-size="28.5" text-anchor="middle">0.7</text>
<line x1="272.44" y1="1413.2" x2="272.44" y2="1416.9" stroke="#000" stroke-width="2.2"/>
<line x1="272.44" y1="1746.6" x2="272.44" y2="1750.3" stroke="#000" stroke-width="2.2"/>
<line x1="311.32" y1="1413.2" x2="311.32" y2="1419.2" stroke="#000" stroke-width="2.2"/>
<line x1="311.32" y1="1746.6" x2="311.32" y2="1752.6" stroke="#000" stroke-width="2.2"/>
<text x="311.32" y="1789" font-size="28.5" text-anchor="middle">0.8</text>
<line x1="350.2" y1="1413.2" x2="350.2" y2="1416.9" stroke="#000" stroke-width="2.2"/>
<line x1="350.2" y1="1746.6" x2="350.2" y2="1750.3" stroke="#000" stroke-width="2.2"/>
<line x1="389.08" y1="1413.2" x2="389.08" y2="1419.2" stroke="#000" stroke-width="2.2"/>
<line x1="389.08" y1="1746.6" x2="389.08" y2="1752.6" stroke="#000" stroke-width="2.2"/>
<text x="389.08" y="1789" font-size="28.5" text-anchor="middle">0.9</text>
<line x1="427.96" y1="1413.2" x2="427.96" y2="1416.9" stroke="#000" stroke-width="2.2"/>
<line x1="427.96" y1="1746.6" x2="427.96" y2="1750.3" stroke="#000" stroke-width="2.2"/>
<line x1="466.84" y1="1413.2" x2="466.84" y2="1419.2" stroke="#000" stroke-width="2.2"/>
<line x1="466.84" y1="1746.6" x2="466.84" y2="1752.6" stroke="#000" stroke-width="2.2"/>
<text x="466.84" y="1789" font-size="28.5" text-anchor="middle">1.0</text>
<line x1="505.72" y1="1413.2" x2="505.72" y2="1416.9" stroke="#000" stroke-width="2.2"/>
<line x1="505.72" y1="1746.6" x2="505.72" y2="1750.3" stroke="#000" stroke-width="2.2"/>
<line x1="544.6" y1="1413.2" x2="544.6" y2="1419.2" stroke="#000" stroke-width="2.2"/>
<line x1="544.6" y1="1746.6" x2="544.6" y2="1752.6" stroke="#000" stroke-width="2.2"/>
<text x="544.6" y="1789" font-size="28.5" text-anchor="middle">1.1</text>
<line x1="583.48" y1="1413.2" x2="583.48" y2="1416.9" stroke="#000" stroke-width="2.2"/>
<line x1="583.48" y1="1746.6" x2="583.48" y2="1750.3" stroke="#000" stroke-width="2.2"/>
<line x1="110.6" y1="1746.6" x2="116.9" y2="1746.6" stroke="#FF3BAC" stroke-width="2.4"/>
<line x1="113.1" y1="1699.99" x2="116.9" y2="1699.99" stroke="#FF3BAC" stroke-width="2.2"/>
<line x1="110.6" y1="1679.92" x2="116.9" y2="1679.92" stroke="#FF3BAC" stroke-width="2.4"/>
<line x1="113.1" y1="1633.31" x2="116.9" y2="1633.31" stroke="#FF3BAC" stroke-width="2.2"/>
<line x1="110.6" y1="1613.24" x2="116.9" y2="1613.24" stroke="#FF3BAC" stroke-width="2.4"/>
<line x1="113.1" y1="1566.63" x2="116.9" y2="1566.63" stroke="#FF3BAC" stroke-width="2.2"/>
<line x1="110.6" y1="1546.56" x2="116.9" y2="1546.56" stroke="#FF3BAC" stroke-width="2.4"/>
<line x1="113.1" y1="1499.95" x2="116.9" y2="1499.95" stroke="#FF3BAC" stroke-width="2.2"/>
<line x1="110.6" y1="1479.88" x2="116.9" y2="1479.88" stroke="#FF3BAC" stroke-width="2.4"/>
<line x1="113.1" y1="1433.27" x2="116.9" y2="1433.27" stroke="#FF3BAC" stroke-width="2.2"/>
<line x1="110.6" y1="1413.2" x2="116.9" y2="1413.2" stroke="#FF3BAC" stroke-width="2.4"/>
<text x="95.5" y="1763.7" font-size="29" text-anchor="end">10<tspan font-size="20.5" dy="-12.5">0</tspan></text>
<text x="95.5" y="1696.12" font-size="29" text-anchor="end">10<tspan font-size="20.5" dy="-12.5">1</tspan></text>
<text x="95.5" y="1628.54" font-size="29" text-anchor="end">10<tspan font-size="20.5" dy="-12.5">2</tspan></text>
<text x="95.5" y="1560.96" font-size="29" text-anchor="end">10<tspan font-size="20.5" dy="-12.5">3</tspan></text>
<text x="95.5" y="1493.38" font-size="29" text-anchor="end">10<tspan font-size="20.5" dy="-12.5">4</tspan></text>
<text x="95.5" y="1425.8" font-size="29" text-anchor="end">10<tspan font-size="20.5" dy="-12.5">5</tspan></text>
<line x1="583.6" y1="1746.6" x2="589.6" y2="1746.6" stroke="#0000FF" stroke-width="2.4"/>
<line x1="583.6" y1="1723.3" x2="587.4" y2="1723.3" stroke="#0000FF" stroke-width="2.2"/>
<line x1="583.6" y1="1713.26" x2="589.6" y2="1713.26" stroke="#0000FF" stroke-width="2.4"/>
<line x1="583.6" y1="1689.96" x2="587.4" y2="1689.96" stroke="#0000FF" stroke-width="2.2"/>
<line x1="583.6" y1="1679.92" x2="589.6" y2="1679.92" stroke="#0000FF" stroke-width="2.4"/>
<line x1="583.6" y1="1656.62" x2="587.4" y2="1656.62" stroke="#0000FF" stroke-width="2.2"/>
<line x1="583.6" y1="1646.58" x2="589.6" y2="1646.58" stroke="#0000FF" stroke-width="2.4"/>
<line x1="583.6" y1="1623.28" x2="587.4" y2="1623.28" stroke="#0000FF" stroke-width="2.2"/>
<line x1="583.6" y1="1613.24" x2="589.6" y2="1613.24" stroke="#0000FF" stroke-width="2.4"/>
<line x1="583.6" y1="1589.94" x2="587.4" y2="1589.94" stroke="#0000FF" stroke-width="2.2"/>
<line x1="583.6" y1="1579.9" x2="589.6" y2="1579.9" stroke="#0000FF" stroke-width="2.4"/>
<line x1="583.6" y1="1556.6" x2="587.4" y2="1556.6" stroke="#0000FF" stroke-width="2.2"/>
<line x1="583.6" y1="1546.56" x2="589.6" y2="1546.56" stroke="#0000FF" stroke-width="2.4"/>
<line x1="583.6" y1="1523.26" x2="587.4" y2="1523.26" stroke="#0000FF" stroke-width="2.2"/>
<line x1="583.6" y1="1513.22" x2="589.6" y2="1513.22" stroke="#0000FF" stroke-width="2.4"/>
<line x1="583.6" y1="1489.92" x2="587.4" y2="1489.92" stroke="#0000FF" stroke-width="2.2"/>
<line x1="583.6" y1="1479.88" x2="589.6" y2="1479.88" stroke="#0000FF" stroke-width="2.4"/>
<line x1="583.6" y1="1456.58" x2="587.4" y2="1456.58" stroke="#0000FF" stroke-width="2.2"/>
<line x1="583.6" y1="1446.54" x2="589.6" y2="1446.54" stroke="#0000FF" stroke-width="2.4"/>
<line x1="583.6" y1="1423.24" x2="587.4" y2="1423.24" stroke="#0000FF" stroke-width="2.2"/>
<line x1="583.6" y1="1413.2" x2="589.6" y2="1413.2" stroke="#0000FF" stroke-width="2.4"/>
<text x="599.1" y="1760.9" font-size="29" text-anchor="start">10<tspan font-size="20.5" dy="-12.5" dx="-0.4">–11</tspan></text>
<text x="599.1" y="1727.13" font-size="29" text-anchor="start">10<tspan font-size="20.5" dy="-12.5" dx="-0.4">–10</tspan></text>
<text x="599.1" y="1693.36" font-size="29" text-anchor="start">10<tspan font-size="20.5" dy="-12.5" dx="-0.4">–9</tspan></text>
<text x="599.1" y="1659.59" font-size="29" text-anchor="start">10<tspan font-size="20.5" dy="-12.5" dx="-0.4">–8</tspan></text>
<text x="599.1" y="1625.82" font-size="29" text-anchor="start">10<tspan font-size="20.5" dy="-12.5" dx="-0.4">–7</tspan></text>
<text x="599.1" y="1592.05" font-size="29" text-anchor="start">10<tspan font-size="20.5" dy="-12.5" dx="-0.4">–6</tspan></text>
<text x="599.1" y="1558.28" font-size="29" text-anchor="start">10<tspan font-size="20.5" dy="-12.5" dx="-0.4">–5</tspan></text>
<text x="599.1" y="1524.51" font-size="29" text-anchor="start">10<tspan font-size="20.5" dy="-12.5" dx="-0.4">–4</tspan></text>
<text x="599.1" y="1490.74" font-size="29" text-anchor="start">10<tspan font-size="20.5" dy="-12.5" dx="-0.4">–3</tspan></text>
<text x="599.1" y="1456.97" font-size="29" text-anchor="start">10<tspan font-size="20.5" dy="-12.5" dx="-0.4">–2</tspan></text>
<text x="599.1" y="1423.2" font-size="29" text-anchor="start">10<tspan font-size="20.5" dy="-12.5" dx="-0.4">–1</tspan></text>
<text x="353" y="1832.5" font-size="29" text-anchor="middle"><tspan font-style="italic">V</tspan> (V)</text>
<text x="32.2" y="1579.3" font-size="29" text-anchor="middle" word-spacing="0" transform="rotate(-90 32.2 1579.3)"><tspan font-style="italic">R</tspan> (<tspan font-family="Liberation Serif">Ω</tspan> cm<tspan font-size="19.5" dy="-12">2</tspan><tspan dy="12">)</tspan></text>
<text x="699.8" y="1582.5" font-size="29" text-anchor="middle" word-spacing="0" transform="rotate(-90 699.8 1582.5)">| <tspan font-style="italic">c</tspan> | (F cm<tspan font-size="19.5" dy="-12">−2</tspan><tspan dy="12">)</tspan></text>
<polyline points="155.8,1431.3 233.56,1516.7 311.32,1602.3 389.08,1631.7 466.84,1665.3 544.6,1688.5" fill="none" stroke="#FF3BAC" stroke-width="1.6" stroke-linejoin="round" stroke-dasharray="5,5"/>
<polyline points="155.8,1431.3 233.56,1518.5 311.32,1607 389.08,1678.6 466.84,1690.9 544.6,1698.9" fill="none" stroke="#FF3BAC" stroke-width="1.6" stroke-linejoin="round" stroke-dasharray="5,5"/>
<polyline points="155.8,1525.6 233.56,1535.5 311.32,1568 389.08,1610.5 466.84,1648.5 544.6,1672.2" fill="none" stroke="#FF3BAC" stroke-width="3" stroke-linejoin="round"/>
<polyline points="155.8,1618.9 233.56,1622.5 311.32,1633.2 389.08,1647.3 466.84,1662.8 544.6,1676.1" fill="none" stroke="#FF3BAC" stroke-width="3" stroke-linejoin="round"/>
<polyline points="155.8,1558.2 233.56,1549.3 311.32,1478.2 389.08,1521.2 466.84,1504.9 544.6,1493" fill="none" stroke="#0000FF" stroke-width="2.4" stroke-linejoin="round" stroke-dasharray="7,5"/>
<polyline points="311.32,1485.6 389.08,1422.4 466.84,1433.8 544.6,1435.8" fill="none" stroke="#0000FF" stroke-width="2.4" stroke-linejoin="round" stroke-dasharray="7,5"/>
<polyline points="155.8,1615.9 233.56,1616.9 311.32,1617.5 389.08,1613 466.84,1612 544.6,1611" fill="none" stroke="#0000FF" stroke-width="2.4" stroke-linejoin="round"/>
<polyline points="155.8,1608 233.56,1611.2 311.32,1611 389.08,1610.5 466.84,1610.5 544.6,1611.5" fill="none" stroke="#0000FF" stroke-width="3.2" stroke-linejoin="round"/>
<rect x="151.8" y="1427.3" width="8" height="8" fill="#000"/>
<rect x="229.56" y="1512.7" width="8" height="8" fill="#000"/>
<rect x="307.32" y="1598.3" width="8" height="8" fill="#000"/>
<rect x="385.08" y="1627.7" width="8" height="8" fill="#000"/>
<rect x="462.84" y="1661.3" width="8" height="8" fill="#000"/>
<rect x="540.6" y="1684.5" width="8" height="8" fill="#000"/>
<rect x="385.08" y="1674.6" width="8" height="8" fill="#FF0000"/>
<rect x="462.84" y="1686.9" width="8" height="8" fill="#FF0000"/>
<rect x="540.6" y="1694.9" width="8" height="8" fill="#FF0000"/>
<rect x="151.8" y="1521.6" width="8" height="8" fill="#000"/>
<rect x="229.56" y="1531.5" width="8" height="8" fill="#000"/>
<rect x="307.32" y="1564" width="8" height="8" fill="#000"/>
<rect x="385.08" y="1606.5" width="8" height="8" fill="#000"/>
<rect x="462.84" y="1644.5" width="8" height="8" fill="#000"/>
<rect x="540.6" y="1668.2" width="8" height="8" fill="#000"/>
<rect x="151.8" y="1614.9" width="8" height="8" fill="#FF0000"/>
<rect x="229.56" y="1618.5" width="8" height="8" fill="#FF0000"/>
<rect x="307.32" y="1629.2" width="8" height="8" fill="#FF0000"/>
<rect x="385.08" y="1643.3" width="8" height="8" fill="#FF0000"/>
<rect x="462.84" y="1658.8" width="8" height="8" fill="#FF0000"/>
<rect x="540.6" y="1672.1" width="8" height="8" fill="#FF0000"/>
<rect x="151.8" y="1554.2" width="8" height="8" fill="#000"/>
<rect x="229.56" y="1545.3" width="8" height="8" fill="#000"/>
<rect x="307.32" y="1474.2" width="8" height="8" fill="#000"/>
<rect x="385.08" y="1517.2" width="8" height="8" fill="#000"/>
<rect x="462.84" y="1500.9" width="8" height="8" fill="#000"/>
<rect x="540.6" y="1489" width="8" height="8" fill="#000"/>
<rect x="307.32" y="1481.6" width="8" height="8" fill="#FF0000"/>
<rect x="385.08" y="1418.4" width="8" height="8" fill="#FF0000"/>
<rect x="462.84" y="1429.8" width="8" height="8" fill="#FF0000"/>
<rect x="540.6" y="1431.8" width="8" height="8" fill="#FF0000"/>
<rect x="151.8" y="1611.9" width="8" height="8" fill="#000"/>
<rect x="229.56" y="1612.9" width="8" height="8" fill="#000"/>
<rect x="307.32" y="1613.5" width="8" height="8" fill="#000"/>
<rect x="385.08" y="1609" width="8" height="8" fill="#000"/>
<rect x="462.84" y="1608" width="8" height="8" fill="#000"/>
<rect x="540.6" y="1607" width="8" height="8" fill="#000"/>
<rect x="151.8" y="1604" width="8" height="8" fill="#FF0000"/>
<rect x="229.56" y="1607.2" width="8" height="8" fill="#FF0000"/>
<rect x="307.32" y="1607" width="8" height="8" fill="#FF0000"/>
<rect x="385.08" y="1606.5" width="8" height="8" fill="#FF0000"/>
<rect x="462.84" y="1606.5" width="8" height="8" fill="#FF0000"/>
<rect x="540.6" y="1607.5" width="8" height="8" fill="#FF0000"/>
<text x="172.8" y="1657" font-size="21">Dashed: low- <tspan font-style="italic">f</tspan></text>
<text x="172.8" y="1683.4" font-size="21">Line: high- <tspan font-style="italic">f</tspan></text>
<rect x="193.2" y="1699.3" width="10" height="10" fill="#FF0000"/>
<text x="210.5" y="1710.8" font-size="21">: light</text>
<rect x="193.2" y="1723.5" width="10" height="10" fill="#000"/>
<text x="210.5" y="1735" font-size="21">: dark</text>
<text x="750.9" y="1429.7" font-size="43" font-weight="bold">h</text>
<line x1="869.3" y1="1413" x2="1339.1" y2="1413" stroke="#000" stroke-width="3"/>
<line x1="869.3" y1="1746.2" x2="1339.1" y2="1746.2" stroke="#000" stroke-width="3"/>
<line x1="870.6" y1="1413" x2="870.6" y2="1747.7" stroke="#FF3BAC" stroke-width="3.2"/>
<line x1="1337.8" y1="1413" x2="1337.8" y2="1747.7" stroke="#0000FF" stroke-width="3"/>
<line x1="870.98" y1="1413" x2="870.98" y2="1416.7" stroke="#000" stroke-width="2.2"/>
<line x1="870.98" y1="1746.2" x2="870.98" y2="1749.9" stroke="#000" stroke-width="2.2"/>
<line x1="929.3" y1="1413" x2="929.3" y2="1419" stroke="#000" stroke-width="2.2"/>
<line x1="929.3" y1="1746.2" x2="929.3" y2="1752.2" stroke="#000" stroke-width="2.2"/>
<text x="929.3" y="1786.6" font-size="28.5" text-anchor="middle">0.8</text>
<line x1="987.61" y1="1413" x2="987.61" y2="1416.7" stroke="#000" stroke-width="2.2"/>
<line x1="987.61" y1="1746.2" x2="987.61" y2="1749.9" stroke="#000" stroke-width="2.2"/>
<line x1="1045.93" y1="1413" x2="1045.93" y2="1419" stroke="#000" stroke-width="2.2"/>
<line x1="1045.93" y1="1746.2" x2="1045.93" y2="1752.2" stroke="#000" stroke-width="2.2"/>
<text x="1045.93" y="1786.6" font-size="28.5" text-anchor="middle">0.9</text>
<line x1="1104.24" y1="1413" x2="1104.24" y2="1416.7" stroke="#000" stroke-width="2.2"/>
<line x1="1104.24" y1="1746.2" x2="1104.24" y2="1749.9" stroke="#000" stroke-width="2.2"/>
<line x1="1162.56" y1="1413" x2="1162.56" y2="1419" stroke="#000" stroke-width="2.2"/>
<line x1="1162.56" y1="1746.2" x2="1162.56" y2="1752.2" stroke="#000" stroke-width="2.2"/>
<text x="1162.56" y="1786.6" font-size="28.5" text-anchor="middle">1.0</text>
<line x1="1220.88" y1="1413" x2="1220.88" y2="1416.7" stroke="#000" stroke-width="2.2"/>
<line x1="1220.88" y1="1746.2" x2="1220.88" y2="1749.9" stroke="#000" stroke-width="2.2"/>
<line x1="1279.19" y1="1413" x2="1279.19" y2="1419" stroke="#000" stroke-width="2.2"/>
<line x1="1279.19" y1="1746.2" x2="1279.19" y2="1752.2" stroke="#000" stroke-width="2.2"/>
<text x="1279.19" y="1786.6" font-size="28.5" text-anchor="middle">1.1</text>
<line x1="1337.5" y1="1413" x2="1337.5" y2="1416.7" stroke="#000" stroke-width="2.2"/>
<line x1="1337.5" y1="1746.2" x2="1337.5" y2="1749.9" stroke="#000" stroke-width="2.2"/>
<line x1="864.3" y1="1746.2" x2="870.6" y2="1746.2" stroke="#FF3BAC" stroke-width="2.4"/>
<line x1="866.8" y1="1709.06" x2="870.6" y2="1709.06" stroke="#FF3BAC" stroke-width="2.2"/>
<line x1="864.3" y1="1693.07" x2="870.6" y2="1693.07" stroke="#FF3BAC" stroke-width="2.4"/>
<line x1="866.8" y1="1655.93" x2="870.6" y2="1655.93" stroke="#FF3BAC" stroke-width="2.2"/>
<line x1="864.3" y1="1639.94" x2="870.6" y2="1639.94" stroke="#FF3BAC" stroke-width="2.4"/>
<line x1="866.8" y1="1602.8" x2="870.6" y2="1602.8" stroke="#FF3BAC" stroke-width="2.2"/>
<line x1="864.3" y1="1586.81" x2="870.6" y2="1586.81" stroke="#FF3BAC" stroke-width="2.4"/>
<line x1="866.8" y1="1549.67" x2="870.6" y2="1549.67" stroke="#FF3BAC" stroke-width="2.2"/>
<line x1="864.3" y1="1533.68" x2="870.6" y2="1533.68" stroke="#FF3BAC" stroke-width="2.4"/>
<line x1="866.8" y1="1496.54" x2="870.6" y2="1496.54" stroke="#FF3BAC" stroke-width="2.2"/>
<line x1="864.3" y1="1480.55" x2="870.6" y2="1480.55" stroke="#FF3BAC" stroke-width="2.4"/>
<line x1="866.8" y1="1443.41" x2="870.6" y2="1443.41" stroke="#FF3BAC" stroke-width="2.2"/>
<line x1="864.3" y1="1427.42" x2="870.6" y2="1427.42" stroke="#FF3BAC" stroke-width="2.4"/>
<text x="857" y="1764.26" font-size="29" text-anchor="end">10<tspan font-size="20.5" dy="-12.5" dx="-0.4">–3</tspan></text>
<text x="857" y="1710.77" font-size="29" text-anchor="end">10<tspan font-size="20.5" dy="-12.5" dx="-0.4">–2</tspan></text>
<text x="857" y="1657.28" font-size="29" text-anchor="end">10<tspan font-size="20.5" dy="-12.5" dx="-0.4">–1</tspan></text>
<text x="857" y="1603.79" font-size="29" text-anchor="end">10<tspan font-size="20.5" dy="-12.5">0</tspan></text>
<text x="857" y="1550.3" font-size="29" text-anchor="end">10<tspan font-size="20.5" dy="-12.5">1</tspan></text>
<text x="857" y="1496.81" font-size="29" text-anchor="end">10<tspan font-size="20.5" dy="-12.5">2</tspan></text>
<text x="857" y="1443.32" font-size="29" text-anchor="end">10<tspan font-size="20.5" dy="-12.5">3</tspan></text>
<line x1="1337.8" y1="1746.2" x2="1343.8" y2="1746.2" stroke="#0000FF" stroke-width="2.4"/>
<line x1="1337.8" y1="1709.06" x2="1341.6" y2="1709.06" stroke="#0000FF" stroke-width="2.2"/>
<line x1="1337.8" y1="1693.07" x2="1343.8" y2="1693.07" stroke="#0000FF" stroke-width="2.4"/>
<line x1="1337.8" y1="1655.93" x2="1341.6" y2="1655.93" stroke="#0000FF" stroke-width="2.2"/>
<line x1="1337.8" y1="1639.94" x2="1343.8" y2="1639.94" stroke="#0000FF" stroke-width="2.4"/>
<line x1="1337.8" y1="1602.8" x2="1341.6" y2="1602.8" stroke="#0000FF" stroke-width="2.2"/>
<line x1="1337.8" y1="1586.81" x2="1343.8" y2="1586.81" stroke="#0000FF" stroke-width="2.4"/>
<line x1="1337.8" y1="1549.67" x2="1341.6" y2="1549.67" stroke="#0000FF" stroke-width="2.2"/>
<line x1="1337.8" y1="1533.68" x2="1343.8" y2="1533.68" stroke="#0000FF" stroke-width="2.4"/>
<line x1="1337.8" y1="1496.54" x2="1341.6" y2="1496.54" stroke="#0000FF" stroke-width="2.2"/>
<line x1="1337.8" y1="1480.55" x2="1343.8" y2="1480.55" stroke="#0000FF" stroke-width="2.4"/>
<line x1="1337.8" y1="1443.41" x2="1341.6" y2="1443.41" stroke="#0000FF" stroke-width="2.2"/>
<line x1="1337.8" y1="1427.42" x2="1343.8" y2="1427.42" stroke="#0000FF" stroke-width="2.4"/>
<text x="1350" y="1760.2" font-size="29" text-anchor="start">10<tspan font-size="20.5" dy="-12.5" dx="-0.4">–8</tspan></text>
<text x="1350" y="1707.07" font-size="29" text-anchor="start">10<tspan font-size="20.5" dy="-12.5" dx="-0.4">–7</tspan></text>
<text x="1350" y="1653.94" font-size="29" text-anchor="start">10<tspan font-size="20.5" dy="-12.5" dx="-0.4">–6</tspan></text>
<text x="1350" y="1600.81" font-size="29" text-anchor="start">10<tspan font-size="20.5" dy="-12.5" dx="-0.4">–5</tspan></text>
<text x="1350" y="1547.68" font-size="29" text-anchor="start">10<tspan font-size="20.5" dy="-12.5" dx="-0.4">–4</tspan></text>
<text x="1350" y="1494.55" font-size="29" text-anchor="start">10<tspan font-size="20.5" dy="-12.5" dx="-0.4">–3</tspan></text>
<text x="1350" y="1441.42" font-size="29" text-anchor="start">10<tspan font-size="20.5" dy="-12.5" dx="-0.4">–2</tspan></text>
<text x="1105.8" y="1827.3" font-size="29" text-anchor="middle"><tspan font-style="italic">V</tspan> (V)</text>
<text x="782.6" y="1587.7" font-size="29" text-anchor="middle" word-spacing="0" transform="rotate(-90 782.6 1587.7)"><tspan font-style="italic">R</tspan> (<tspan font-family="Liberation Serif">Ω</tspan> cm<tspan font-size="19.5" dy="-12">2</tspan><tspan dy="12">)</tspan></text>
<text x="1452.7" y="1582" font-size="29" text-anchor="middle" word-spacing="0" transform="rotate(-90 1452.7 1582)"><tspan font-style="italic">C</tspan> (F cm<tspan font-size="19.5" dy="-12">−2</tspan><tspan dy="12">)</tspan></text>
<polyline points="929.3,1415.5 1045.93,1462.3 1162.56,1508.1 1279.19,1537.7" fill="none" stroke="#FF3BAC" stroke-width="1.6" stroke-linejoin="round" stroke-dasharray="5,5"/>
<polyline points="929.3,1481 1045.93,1517 1162.56,1540.2 1279.19,1539" fill="none" stroke="#FF3BAC" stroke-width="1.6" stroke-linejoin="round" stroke-dasharray="5,5"/>
<polyline points="929.3,1415.5 1045.93,1455.4 1162.56,1498.3 1279.19,1533.8" fill="none" stroke="#FF3BAC" stroke-width="3" stroke-linejoin="round"/>
<polyline points="929.3,1503.2 1045.93,1517 1162.56,1537.7 1279.19,1542.6" fill="none" stroke="#FF3BAC" stroke-width="3" stroke-linejoin="round"/>
<polyline points="929.3,1556.4 1045.93,1508.1 1162.56,1462.8 1279.19,1433.2" fill="none" stroke="#0000FF" stroke-width="2" stroke-linejoin="round" stroke-dasharray="6,5"/>
<polyline points="929.3,1472.2 1045.93,1452.9 1162.56,1430.8 1279.19,1431.7" fill="none" stroke="#0000FF" stroke-width="2" stroke-linejoin="round" stroke-dasharray="6,5"/>
<polyline points="929.3,1684.6 1045.93,1679.7 1162.56,1668.3 1279.19,1671.8" fill="none" stroke="#0000FF" stroke-width="3" stroke-linejoin="round"/>
<polyline points="929.3,1699.4 1045.93,1694 1162.56,1689.5 1279.19,1673.2" fill="none" stroke="#0000FF" stroke-width="3" stroke-linejoin="round"/>
<rect x="926.05" y="1412.25" width="6.5" height="6.5" fill="#000"/>
<rect x="1042.68" y="1452.15" width="6.5" height="6.5" fill="#000"/>
<rect x="1159.81" y="1495.55" width="5.5" height="5.5" fill="#000"/>
<rect x="1276.44" y="1531.05" width="5.5" height="5.5" fill="#000"/>
<rect x="1043.43" y="1459.8" width="5" height="5" fill="#000"/>
<rect x="1160.06" y="1505.6" width="5" height="5" fill="#000"/>
<rect x="1276.69" y="1535.2" width="5" height="5" fill="#000"/>
<rect x="926.8" y="1500.7" width="5" height="5" fill="#FF0000"/>
<rect x="1043.43" y="1514.5" width="5" height="5" fill="#FF0000"/>
<rect x="1160.06" y="1535.2" width="5" height="5" fill="#FF0000"/>
<rect x="1276.69" y="1540.1" width="5" height="5" fill="#FF0000"/>
<rect x="926.8" y="1478.5" width="5" height="5" fill="#FF0000"/>
<rect x="925.55" y="1552.65" width="7.5" height="7.5" fill="#000"/>
<rect x="1042.18" y="1504.35" width="7.5" height="7.5" fill="#000"/>
<rect x="1158.81" y="1459.05" width="7.5" height="7.5" fill="#000"/>
<rect x="1275.44" y="1429.45" width="7.5" height="7.5" fill="#000"/>
<rect x="925.55" y="1468.45" width="7.5" height="7.5" fill="#FF0000"/>
<rect x="1042.18" y="1449.15" width="7.5" height="7.5" fill="#FF0000"/>
<rect x="1158.81" y="1427.05" width="7.5" height="7.5" fill="#FF0000"/>
<rect x="1275.44" y="1427.95" width="7.5" height="7.5" fill="#FF0000"/>
<rect x="925.55" y="1680.85" width="7.5" height="7.5" fill="#000"/>
<rect x="1042.18" y="1675.95" width="7.5" height="7.5" fill="#000"/>
<rect x="1158.81" y="1664.55" width="7.5" height="7.5" fill="#000"/>
<rect x="1275.44" y="1668.05" width="7.5" height="7.5" fill="#000"/>
<rect x="925.55" y="1695.65" width="7.5" height="7.5" fill="#FF0000"/>
<rect x="1042.18" y="1690.25" width="7.5" height="7.5" fill="#FF0000"/>
<rect x="1158.81" y="1685.75" width="7.5" height="7.5" fill="#FF0000"/>
<rect x="1275.44" y="1669.45" width="7.5" height="7.5" fill="#FF0000"/>
<text x="948" y="1581" font-size="21">Dashed: low- <tspan font-style="italic">f</tspan></text>
<text x="948" y="1607.7" font-size="21">Line: high- <tspan font-style="italic">f</tspan></text>
<rect x="959.3" y="1628.2" width="10" height="10" fill="#FF0000"/>
<text x="975.6" y="1639.7" font-size="21">: light</text>
<rect x="959.3" y="1654.4" width="10" height="10" fill="#000"/>
<text x="975.6" y="1665.9" font-size="21">: dark</text>
</svg></body></html>
